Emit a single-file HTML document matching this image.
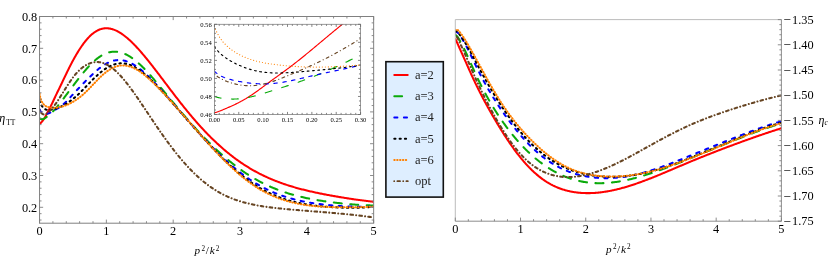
<!DOCTYPE html>
<html><head><meta charset="utf-8"><style>html,body{margin:0;padding:0;background:#fff}svg{display:block;will-change:transform}text{font-family:"Liberation Serif",serif;fill:#000}</style></head><body>
<svg width="830" height="260" viewBox="0 0 830 260">
<rect width="830" height="260" fill="#fff"/>
<clipPath id="cl"><rect x="39.55" y="16.50" width="334.10" height="206.70"/></clipPath>
<g clip-path="url(#cl)" fill="none" stroke-width="2.05" stroke-linecap="round" stroke-linejoin="round">
<path d="M39.55 124.01 L39.58 123.99 L39.63 123.96 L39.71 123.91 L39.79 123.85 L39.89 123.77 L39.99 123.68 L40.11 123.58 L40.23 123.46 L40.36 123.33 L40.50 123.19 L40.64 123.04 L40.80 122.87 L40.95 122.70 L41.12 122.51 L41.29 122.32 L41.47 122.13 L41.65 121.92 L41.84 121.71 L42.03 121.49 L42.23 121.25 L42.43 121.00 L42.64 120.74 L42.86 120.46 L43.07 120.17 L43.30 119.86 L43.52 119.53 L43.76 119.19 L43.99 118.82 L44.23 118.44 L44.48 118.03 L44.72 117.61 L44.98 117.17 L45.23 116.71 L45.49 116.23 L45.76 115.73 L46.02 115.22 L46.30 114.71 L46.57 114.18 L46.85 113.65 L47.13 113.11 L47.42 112.58 L47.71 112.04 L48.00 111.49 L48.30 110.94 L48.60 110.39 L48.90 109.82 L49.21 109.24 L49.52 108.66 L49.83 108.05 L50.15 107.44 L50.47 106.80 L50.79 106.15 L51.11 105.49 L51.44 104.82 L51.78 104.13 L52.11 103.43 L52.45 102.72 L52.79 101.99 L53.13 101.26 L53.48 100.51 L53.83 99.76 L54.18 99.00 L54.54 98.23 L54.90 97.46 L55.26 96.69 L55.62 95.91 L55.99 95.13 L56.36 94.35 L56.73 93.57 L57.10 92.80 L57.48 92.02 L57.86 91.24 L58.24 90.45 L58.63 89.67 L59.02 88.88 L59.41 88.08 L59.80 87.28 L60.20 86.46 L60.60 85.64 L61.00 84.82 L61.40 83.98 L61.81 83.13 L62.21 82.28 L62.63 81.41 L63.04 80.55 L63.45 79.67 L63.87 78.79 L64.29 77.91 L64.72 77.02 L65.14 76.13 L65.57 75.23 L66.00 74.33 L66.43 73.44 L66.87 72.54 L67.30 71.64 L67.74 70.73 L68.18 69.83 L68.63 68.94 L69.07 68.04 L69.52 67.15 L69.97 66.25 L70.43 65.36 L70.88 64.48 L71.34 63.60 L71.80 62.72 L72.26 61.85 L72.72 60.98 L73.19 60.12 L73.66 59.27 L74.13 58.42 L74.60 57.57 L75.08 56.73 L75.55 55.90 L76.03 55.07 L76.51 54.26 L77.00 53.44 L77.48 52.64 L77.97 51.84 L78.46 51.05 L78.95 50.27 L79.44 49.49 L79.94 48.73 L80.44 47.97 L80.94 47.23 L81.44 46.49 L81.94 45.76 L82.45 45.05 L82.96 44.34 L83.46 43.65 L83.98 42.97 L84.49 42.30 L85.01 41.64 L85.52 41.00 L86.04 40.36 L86.56 39.74 L87.09 39.14 L87.61 38.54 L88.14 37.97 L88.67 37.40 L89.20 36.85 L89.73 36.32 L90.27 35.80 L90.80 35.30 L91.34 34.81 L91.88 34.34 L92.43 33.88 L92.97 33.45 L93.52 33.02 L94.06 32.62 L94.61 32.23 L95.16 31.86 L95.72 31.51 L96.27 31.17 L96.83 30.86 L97.39 30.56 L97.95 30.28 L98.51 30.01 L99.08 29.77 L99.64 29.54 L100.21 29.33 L100.78 29.14 L101.35 28.97 L101.92 28.82 L102.50 28.68 L103.08 28.57 L103.65 28.47 L104.23 28.39 L104.82 28.33 L105.40 28.29 L105.99 28.27 L106.57 28.27 L107.16 28.28 L107.75 28.32 L108.34 28.37 L108.94 28.44 L109.53 28.53 L110.13 28.63 L110.73 28.75 L111.33 28.89 L111.93 29.05 L112.54 29.23 L113.14 29.42 L113.75 29.63 L114.36 29.86 L114.97 30.11 L115.58 30.37 L116.20 30.65 L116.81 30.94 L117.43 31.25 L118.05 31.58 L118.67 31.93 L119.29 32.28 L119.91 32.66 L120.54 33.05 L121.17 33.45 L121.80 33.87 L122.43 34.31 L123.06 34.76 L123.69 35.22 L124.33 35.70 L124.96 36.19 L125.60 36.70 L126.24 37.22 L126.88 37.75 L127.52 38.30 L128.17 38.86 L128.81 39.43 L129.46 40.01 L130.11 40.61 L130.76 41.22 L131.41 41.84 L132.07 42.48 L132.72 43.12 L133.38 43.78 L134.04 44.44 L134.70 45.12 L135.36 45.81 L136.02 46.51 L136.69 47.22 L137.35 47.94 L138.02 48.67 L138.69 49.41 L139.36 50.16 L140.03 50.92 L140.71 51.69 L141.38 52.47 L142.06 53.26 L142.74 54.05 L143.42 54.86 L144.10 55.67 L144.78 56.49 L145.47 57.32 L146.15 58.16 L146.84 59.00 L147.53 59.85 L148.22 60.71 L148.91 61.57 L149.60 62.44 L150.29 63.32 L150.99 64.20 L151.69 65.09 L152.39 65.98 L153.09 66.88 L153.79 67.78 L154.49 68.69 L155.20 69.60 L155.90 70.52 L156.61 71.45 L157.32 72.37 L158.03 73.30 L158.74 74.24 L159.45 75.18 L160.17 76.12 L160.88 77.06 L161.60 78.01 L162.32 78.96 L163.04 79.92 L163.76 80.87 L164.48 81.83 L165.21 82.79 L165.93 83.75 L166.66 84.71 L167.39 85.68 L168.12 86.64 L168.85 87.61 L169.58 88.57 L170.32 89.54 L171.05 90.51 L171.79 91.48 L172.53 92.44 L173.26 93.41 L174.01 94.38 L174.75 95.34 L175.49 96.31 L176.24 97.27 L176.98 98.24 L177.73 99.20 L178.48 100.16 L179.23 101.12 L179.98 102.08 L180.73 103.03 L181.49 103.99 L182.24 104.94 L183.00 105.89 L183.76 106.83 L184.52 107.78 L185.28 108.72 L186.04 109.66 L186.81 110.60 L187.57 111.53 L188.34 112.46 L189.10 113.39 L189.87 114.31 L190.64 115.23 L191.42 116.15 L192.19 117.06 L192.96 117.97 L193.74 118.88 L194.51 119.78 L195.29 120.68 L196.07 121.57 L196.85 122.46 L197.63 123.35 L198.42 124.23 L199.20 125.10 L199.99 125.98 L200.78 126.84 L201.56 127.71 L202.35 128.56 L203.14 129.42 L203.94 130.27 L204.73 131.11 L205.52 131.95 L206.32 132.78 L207.12 133.61 L207.92 134.43 L208.72 135.25 L209.52 136.06 L210.32 136.87 L211.12 137.67 L211.93 138.46 L212.73 139.25 L213.54 140.04 L214.35 140.81 L215.16 141.59 L215.97 142.35 L216.78 143.12 L217.60 143.87 L218.41 144.62 L219.23 145.37 L220.05 146.10 L220.86 146.84 L221.68 147.56 L222.51 148.28 L223.33 148.99 L224.15 149.70 L224.98 150.40 L225.80 151.10 L226.63 151.79 L227.46 152.47 L228.29 153.15 L229.12 153.82 L229.95 154.48 L230.78 155.14 L231.62 155.79 L232.45 156.43 L233.29 157.07 L234.13 157.70 L234.97 158.33 L235.81 158.95 L236.65 159.56 L237.49 160.17 L238.34 160.77 L239.18 161.36 L240.03 161.95 L240.88 162.53 L241.73 163.11 L242.58 163.68 L243.43 164.24 L244.28 164.80 L245.13 165.35 L245.99 165.89 L246.84 166.43 L247.70 166.97 L248.56 167.49 L249.42 168.01 L250.28 168.53 L251.14 169.04 L252.00 169.54 L252.87 170.04 L253.73 170.53 L254.60 171.01 L255.47 171.49 L256.34 171.96 L257.21 172.43 L258.08 172.89 L258.95 173.35 L259.82 173.79 L260.70 174.24 L261.57 174.68 L262.45 175.11 L263.33 175.53 L264.21 175.95 L265.09 176.37 L265.97 176.78 L266.85 177.18 L267.74 177.58 L268.62 177.98 L269.51 178.36 L270.40 178.75 L271.28 179.13 L272.17 179.50 L273.06 179.87 L273.96 180.23 L274.85 180.59 L275.74 180.95 L276.64 181.30 L277.54 181.64 L278.43 181.98 L279.33 182.32 L280.23 182.65 L281.13 182.97 L282.03 183.30 L282.94 183.61 L283.84 183.93 L284.75 184.24 L285.65 184.54 L286.56 184.85 L287.47 185.14 L288.38 185.44 L289.29 185.72 L290.20 186.01 L291.12 186.29 L292.03 186.57 L292.94 186.84 L293.86 187.11 L294.78 187.38 L295.70 187.64 L296.62 187.90 L297.54 188.16 L298.46 188.41 L299.38 188.66 L300.31 188.90 L301.23 189.15 L302.16 189.39 L303.09 189.62 L304.01 189.86 L304.94 190.09 L305.87 190.31 L306.81 190.54 L307.74 190.76 L308.67 190.98 L309.61 191.20 L310.54 191.41 L311.48 191.62 L312.42 191.83 L313.36 192.04 L314.30 192.25 L315.24 192.45 L316.18 192.65 L317.13 192.85 L318.07 193.05 L319.02 193.24 L319.96 193.43 L320.91 193.62 L321.86 193.81 L322.81 194.00 L323.76 194.19 L324.71 194.37 L325.67 194.55 L326.62 194.73 L327.58 194.91 L328.53 195.09 L329.49 195.27 L330.45 195.44 L331.41 195.62 L332.37 195.79 L333.33 195.96 L334.29 196.13 L335.26 196.30 L336.22 196.47 L337.19 196.63 L338.16 196.80 L339.12 196.96 L340.09 197.13 L341.06 197.29 L342.03 197.45 L343.01 197.61 L343.98 197.77 L344.95 197.92 L345.93 198.08 L346.90 198.23 L347.88 198.38 L348.86 198.53 L349.84 198.68 L350.82 198.83 L351.80 198.98 L352.78 199.12 L353.77 199.26 L354.75 199.40 L355.74 199.54 L356.72 199.68 L357.71 199.82 L358.70 199.95 L359.69 200.09 L360.68 200.22 L361.67 200.35 L362.66 200.48 L363.66 200.60 L364.65 200.73 L365.65 200.85 L366.64 200.97 L367.64 201.09 L368.64 201.21 L369.64 201.32 L370.64 201.44 L371.64 201.55 L372.65 201.66 L373.65 201.77" stroke="#ff0000"/>
<path d="M39.55 118.25 L39.58 118.27 L39.63 118.32 L39.71 118.38 L39.79 118.45 L39.89 118.52 L39.99 118.59 L40.11 118.66 L40.23 118.73 L40.36 118.80 L40.50 118.86 L40.64 118.92 L40.80 118.97 L40.95 119.01 L41.12 119.06 L41.29 119.09 L41.47 119.13 L41.65 119.15 L41.84 119.17 L42.03 119.18 L42.23 119.18 L42.43 119.16 L42.64 119.14 L42.86 119.10 L43.07 119.05 L43.30 118.99 L43.52 118.91 L43.76 118.82 L43.99 118.72 L44.23 118.60 L44.48 118.46 L44.72 118.32 L44.98 118.15 L45.23 117.98 L45.49 117.79 L45.76 117.60 L46.02 117.39 L46.30 117.18 L46.57 116.96 L46.85 116.73 L47.13 116.50 L47.42 116.27 L47.71 116.03 L48.00 115.79 L48.30 115.55 L48.60 115.30 L48.90 115.05 L49.21 114.80 L49.52 114.54 L49.83 114.28 L50.15 114.01 L50.47 113.73 L50.79 113.45 L51.11 113.16 L51.44 112.87 L51.78 112.56 L52.11 112.25 L52.45 111.92 L52.79 111.59 L53.13 111.24 L53.48 110.89 L53.83 110.52 L54.18 110.14 L54.54 109.75 L54.90 109.35 L55.26 108.95 L55.62 108.53 L55.99 108.10 L56.36 107.67 L56.73 107.22 L57.10 106.77 L57.48 106.31 L57.86 105.84 L58.24 105.36 L58.63 104.88 L59.02 104.39 L59.41 103.89 L59.80 103.39 L60.20 102.88 L60.60 102.37 L61.00 101.85 L61.40 101.32 L61.81 100.79 L62.21 100.26 L62.63 99.72 L63.04 99.18 L63.45 98.63 L63.87 98.08 L64.29 97.53 L64.72 96.97 L65.14 96.40 L65.57 95.84 L66.00 95.26 L66.43 94.69 L66.87 94.11 L67.30 93.53 L67.74 92.94 L68.18 92.35 L68.63 91.76 L69.07 91.17 L69.52 90.57 L69.97 89.97 L70.43 89.36 L70.88 88.75 L71.34 88.14 L71.80 87.53 L72.26 86.91 L72.72 86.30 L73.19 85.68 L73.66 85.06 L74.13 84.43 L74.60 83.81 L75.08 83.18 L75.55 82.55 L76.03 81.92 L76.51 81.29 L77.00 80.66 L77.48 80.03 L77.97 79.40 L78.46 78.77 L78.95 78.14 L79.44 77.51 L79.94 76.88 L80.44 76.25 L80.94 75.62 L81.44 74.99 L81.94 74.37 L82.45 73.75 L82.96 73.13 L83.46 72.51 L83.98 71.90 L84.49 71.29 L85.01 70.68 L85.52 70.07 L86.04 69.47 L86.56 68.88 L87.09 68.29 L87.61 67.70 L88.14 67.12 L88.67 66.55 L89.20 65.98 L89.73 65.42 L90.27 64.87 L90.80 64.32 L91.34 63.78 L91.88 63.25 L92.43 62.72 L92.97 62.21 L93.52 61.70 L94.06 61.20 L94.61 60.72 L95.16 60.24 L95.72 59.77 L96.27 59.31 L96.83 58.86 L97.39 58.43 L97.95 58.00 L98.51 57.59 L99.08 57.19 L99.64 56.80 L100.21 56.42 L100.78 56.06 L101.35 55.70 L101.92 55.37 L102.50 55.04 L103.08 54.73 L103.65 54.43 L104.23 54.15 L104.82 53.88 L105.40 53.63 L105.99 53.39 L106.57 53.16 L107.16 52.95 L107.75 52.76 L108.34 52.58 L108.94 52.41 L109.53 52.26 L110.13 52.13 L110.73 52.02 L111.33 51.92 L111.93 51.83 L112.54 51.76 L113.14 51.71 L113.75 51.68 L114.36 51.66 L114.97 51.66 L115.58 51.68 L116.20 51.71 L116.81 51.76 L117.43 51.83 L118.05 51.91 L118.67 52.01 L119.29 52.13 L119.91 52.26 L120.54 52.41 L121.17 52.58 L121.80 52.77 L122.43 52.97 L123.06 53.19 L123.69 53.42 L124.33 53.68 L124.96 53.95 L125.60 54.23 L126.24 54.54 L126.88 54.86 L127.52 55.20 L128.17 55.55 L128.81 55.92 L129.46 56.31 L130.11 56.71 L130.76 57.13 L131.41 57.57 L132.07 58.02 L132.72 58.48 L133.38 58.96 L134.04 59.46 L134.70 59.97 L135.36 60.49 L136.02 61.03 L136.69 61.58 L137.35 62.15 L138.02 62.73 L138.69 63.32 L139.36 63.93 L140.03 64.55 L140.71 65.18 L141.38 65.83 L142.06 66.49 L142.74 67.16 L143.42 67.84 L144.10 68.53 L144.78 69.24 L145.47 69.95 L146.15 70.68 L146.84 71.42 L147.53 72.16 L148.22 72.92 L148.91 73.68 L149.60 74.45 L150.29 75.23 L150.99 76.02 L151.69 76.81 L152.39 77.61 L153.09 78.42 L153.79 79.24 L154.49 80.06 L155.20 80.89 L155.90 81.72 L156.61 82.56 L157.32 83.40 L158.03 84.24 L158.74 85.10 L159.45 85.95 L160.17 86.81 L160.88 87.67 L161.60 88.54 L162.32 89.41 L163.04 90.28 L163.76 91.15 L164.48 92.03 L165.21 92.91 L165.93 93.79 L166.66 94.67 L167.39 95.56 L168.12 96.45 L168.85 97.33 L169.58 98.22 L170.32 99.11 L171.05 100.00 L171.79 100.90 L172.53 101.79 L173.26 102.68 L174.01 103.57 L174.75 104.46 L175.49 105.36 L176.24 106.25 L176.98 107.14 L177.73 108.03 L178.48 108.92 L179.23 109.81 L179.98 110.70 L180.73 111.59 L181.49 112.47 L182.24 113.36 L183.00 114.24 L183.76 115.12 L184.52 116.00 L185.28 116.88 L186.04 117.76 L186.81 118.63 L187.57 119.51 L188.34 120.38 L189.10 121.25 L189.87 122.12 L190.64 122.98 L191.42 123.85 L192.19 124.71 L192.96 125.57 L193.74 126.43 L194.51 127.28 L195.29 128.13 L196.07 128.98 L196.85 129.83 L197.63 130.67 L198.42 131.52 L199.20 132.35 L199.99 133.19 L200.78 134.02 L201.56 134.85 L202.35 135.68 L203.14 136.51 L203.94 137.33 L204.73 138.15 L205.52 138.96 L206.32 139.77 L207.12 140.58 L207.92 141.39 L208.72 142.19 L209.52 142.98 L210.32 143.78 L211.12 144.57 L211.93 145.35 L212.73 146.13 L213.54 146.91 L214.35 147.68 L215.16 148.45 L215.97 149.22 L216.78 149.98 L217.60 150.73 L218.41 151.48 L219.23 152.23 L220.05 152.97 L220.86 153.71 L221.68 154.44 L222.51 155.17 L223.33 155.89 L224.15 156.60 L224.98 157.32 L225.80 158.02 L226.63 158.72 L227.46 159.42 L228.29 160.11 L229.12 160.80 L229.95 161.48 L230.78 162.15 L231.62 162.82 L232.45 163.48 L233.29 164.14 L234.13 164.79 L234.97 165.44 L235.81 166.08 L236.65 166.71 L237.49 167.34 L238.34 167.97 L239.18 168.58 L240.03 169.20 L240.88 169.80 L241.73 170.40 L242.58 171.00 L243.43 171.58 L244.28 172.16 L245.13 172.74 L245.99 173.31 L246.84 173.87 L247.70 174.43 L248.56 174.98 L249.42 175.53 L250.28 176.06 L251.14 176.60 L252.00 177.12 L252.87 177.64 L253.73 178.15 L254.60 178.66 L255.47 179.16 L256.34 179.65 L257.21 180.14 L258.08 180.62 L258.95 181.10 L259.82 181.56 L260.70 182.03 L261.57 182.48 L262.45 182.93 L263.33 183.37 L264.21 183.81 L265.09 184.24 L265.97 184.66 L266.85 185.08 L267.74 185.49 L268.62 185.90 L269.51 186.30 L270.40 186.69 L271.28 187.08 L272.17 187.46 L273.06 187.84 L273.96 188.21 L274.85 188.57 L275.74 188.93 L276.64 189.29 L277.54 189.64 L278.43 189.98 L279.33 190.32 L280.23 190.65 L281.13 190.98 L282.03 191.30 L282.94 191.61 L283.84 191.92 L284.75 192.23 L285.65 192.53 L286.56 192.83 L287.47 193.12 L288.38 193.40 L289.29 193.68 L290.20 193.96 L291.12 194.23 L292.03 194.49 L292.94 194.75 L293.86 195.01 L294.78 195.26 L295.70 195.51 L296.62 195.75 L297.54 195.99 L298.46 196.22 L299.38 196.45 L300.31 196.67 L301.23 196.89 L302.16 197.11 L303.09 197.32 L304.01 197.53 L304.94 197.74 L305.87 197.94 L306.81 198.13 L307.74 198.33 L308.67 198.52 L309.61 198.70 L310.54 198.89 L311.48 199.07 L312.42 199.24 L313.36 199.42 L314.30 199.59 L315.24 199.76 L316.18 199.92 L317.13 200.08 L318.07 200.24 L319.02 200.40 L319.96 200.55 L320.91 200.70 L321.86 200.85 L322.81 200.99 L323.76 201.14 L324.71 201.28 L325.67 201.41 L326.62 201.55 L327.58 201.68 L328.53 201.82 L329.49 201.95 L330.45 202.07 L331.41 202.20 L332.37 202.32 L333.33 202.44 L334.29 202.56 L335.26 202.68 L336.22 202.80 L337.19 202.91 L338.16 203.03 L339.12 203.14 L340.09 203.24 L341.06 203.35 L342.03 203.46 L343.01 203.56 L343.98 203.66 L344.95 203.76 L345.93 203.85 L346.90 203.94 L347.88 204.04 L348.86 204.12 L349.84 204.21 L350.82 204.29 L351.80 204.38 L352.78 204.45 L353.77 204.53 L354.75 204.60 L355.74 204.68 L356.72 204.74 L357.71 204.81 L358.70 204.87 L359.69 204.93 L360.68 204.99 L361.67 205.05 L362.66 205.10 L363.66 205.15 L364.65 205.19 L365.65 205.24 L366.64 205.28 L367.64 205.32 L368.64 205.35 L369.64 205.38 L370.64 205.41 L371.64 205.44 L372.65 205.46 L373.65 205.48" stroke="#0aaa0a" stroke-dasharray="8.0 8.5"/>
<path d="M39.55 109.28 L39.58 109.37 L39.63 109.51 L39.71 109.69 L39.79 109.89 L39.89 110.11 L39.99 110.32 L40.11 110.53 L40.23 110.74 L40.36 110.93 L40.50 111.12 L40.64 111.30 L40.80 111.47 L40.95 111.62 L41.12 111.78 L41.29 111.92 L41.47 112.07 L41.65 112.20 L41.84 112.34 L42.03 112.46 L42.23 112.58 L42.43 112.70 L42.64 112.82 L42.86 112.93 L43.07 113.03 L43.30 113.14 L43.52 113.23 L43.76 113.33 L43.99 113.41 L44.23 113.49 L44.48 113.57 L44.72 113.63 L44.98 113.69 L45.23 113.74 L45.49 113.78 L45.76 113.80 L46.02 113.82 L46.30 113.83 L46.57 113.82 L46.85 113.80 L47.13 113.76 L47.42 113.71 L47.71 113.65 L48.00 113.57 L48.30 113.48 L48.60 113.37 L48.90 113.25 L49.21 113.12 L49.52 112.97 L49.83 112.82 L50.15 112.65 L50.47 112.47 L50.79 112.29 L51.11 112.09 L51.44 111.90 L51.78 111.69 L52.11 111.49 L52.45 111.29 L52.79 111.08 L53.13 110.88 L53.48 110.68 L53.83 110.48 L54.18 110.28 L54.54 110.09 L54.90 109.89 L55.26 109.69 L55.62 109.49 L55.99 109.29 L56.36 109.09 L56.73 108.89 L57.10 108.68 L57.48 108.47 L57.86 108.25 L58.24 108.03 L58.63 107.80 L59.02 107.56 L59.41 107.31 L59.80 107.05 L60.20 106.78 L60.60 106.50 L61.00 106.21 L61.40 105.91 L61.81 105.59 L62.21 105.26 L62.63 104.92 L63.04 104.57 L63.45 104.20 L63.87 103.83 L64.29 103.45 L64.72 103.05 L65.14 102.65 L65.57 102.23 L66.00 101.81 L66.43 101.37 L66.87 100.93 L67.30 100.48 L67.74 100.02 L68.18 99.56 L68.63 99.09 L69.07 98.61 L69.52 98.13 L69.97 97.64 L70.43 97.15 L70.88 96.66 L71.34 96.16 L71.80 95.66 L72.26 95.15 L72.72 94.65 L73.19 94.14 L73.66 93.63 L74.13 93.11 L74.60 92.60 L75.08 92.08 L75.55 91.57 L76.03 91.05 L76.51 90.53 L77.00 90.01 L77.48 89.49 L77.97 88.98 L78.46 88.46 L78.95 87.94 L79.44 87.42 L79.94 86.90 L80.44 86.38 L80.94 85.86 L81.44 85.34 L81.94 84.82 L82.45 84.30 L82.96 83.78 L83.46 83.25 L83.98 82.73 L84.49 82.21 L85.01 81.69 L85.52 81.16 L86.04 80.64 L86.56 80.11 L87.09 79.59 L87.61 79.06 L88.14 78.54 L88.67 78.02 L89.20 77.50 L89.73 76.98 L90.27 76.46 L90.80 75.94 L91.34 75.43 L91.88 74.91 L92.43 74.40 L92.97 73.89 L93.52 73.39 L94.06 72.88 L94.61 72.38 L95.16 71.89 L95.72 71.40 L96.27 70.91 L96.83 70.43 L97.39 69.95 L97.95 69.48 L98.51 69.02 L99.08 68.57 L99.64 68.12 L100.21 67.68 L100.78 67.25 L101.35 66.82 L101.92 66.41 L102.50 66.01 L103.08 65.61 L103.65 65.23 L104.23 64.86 L104.82 64.49 L105.40 64.14 L105.99 63.80 L106.57 63.48 L107.16 63.16 L107.75 62.86 L108.34 62.58 L108.94 62.30 L109.53 62.04 L110.13 61.80 L110.73 61.57 L111.33 61.35 L111.93 61.16 L112.54 60.97 L113.14 60.80 L113.75 60.65 L114.36 60.52 L114.97 60.40 L115.58 60.30 L116.20 60.21 L116.81 60.15 L117.43 60.10 L118.05 60.06 L118.67 60.05 L119.29 60.05 L119.91 60.07 L120.54 60.10 L121.17 60.15 L121.80 60.22 L122.43 60.31 L123.06 60.42 L123.69 60.54 L124.33 60.68 L124.96 60.84 L125.60 61.02 L126.24 61.21 L126.88 61.42 L127.52 61.65 L128.17 61.90 L128.81 62.16 L129.46 62.44 L130.11 62.74 L130.76 63.06 L131.41 63.39 L132.07 63.73 L132.72 64.10 L133.38 64.47 L134.04 64.87 L134.70 65.28 L135.36 65.70 L136.02 66.14 L136.69 66.59 L137.35 67.06 L138.02 67.54 L138.69 68.03 L139.36 68.54 L140.03 69.06 L140.71 69.60 L141.38 70.14 L142.06 70.71 L142.74 71.28 L143.42 71.86 L144.10 72.46 L144.78 73.07 L145.47 73.69 L146.15 74.32 L146.84 74.96 L147.53 75.62 L148.22 76.28 L148.91 76.95 L149.60 77.63 L150.29 78.32 L150.99 79.02 L151.69 79.72 L152.39 80.44 L153.09 81.16 L153.79 81.89 L154.49 82.63 L155.20 83.37 L155.90 84.12 L156.61 84.88 L157.32 85.64 L158.03 86.41 L158.74 87.19 L159.45 87.97 L160.17 88.75 L160.88 89.55 L161.60 90.34 L162.32 91.14 L163.04 91.95 L163.76 92.76 L164.48 93.57 L165.21 94.39 L165.93 95.21 L166.66 96.04 L167.39 96.86 L168.12 97.70 L168.85 98.53 L169.58 99.37 L170.32 100.21 L171.05 101.06 L171.79 101.91 L172.53 102.76 L173.26 103.61 L174.01 104.46 L174.75 105.32 L175.49 106.18 L176.24 107.04 L176.98 107.90 L177.73 108.77 L178.48 109.63 L179.23 110.50 L179.98 111.37 L180.73 112.24 L181.49 113.11 L182.24 113.98 L183.00 114.85 L183.76 115.73 L184.52 116.60 L185.28 117.48 L186.04 118.35 L186.81 119.23 L187.57 120.10 L188.34 120.98 L189.10 121.85 L189.87 122.73 L190.64 123.60 L191.42 124.48 L192.19 125.35 L192.96 126.23 L193.74 127.10 L194.51 127.97 L195.29 128.84 L196.07 129.72 L196.85 130.59 L197.63 131.46 L198.42 132.32 L199.20 133.19 L199.99 134.06 L200.78 134.92 L201.56 135.78 L202.35 136.65 L203.14 137.51 L203.94 138.36 L204.73 139.22 L205.52 140.08 L206.32 140.93 L207.12 141.78 L207.92 142.63 L208.72 143.47 L209.52 144.31 L210.32 145.15 L211.12 145.99 L211.93 146.82 L212.73 147.65 L213.54 148.48 L214.35 149.30 L215.16 150.12 L215.97 150.93 L216.78 151.74 L217.60 152.55 L218.41 153.35 L219.23 154.15 L220.05 154.95 L220.86 155.74 L221.68 156.52 L222.51 157.30 L223.33 158.08 L224.15 158.85 L224.98 159.61 L225.80 160.38 L226.63 161.13 L227.46 161.88 L228.29 162.63 L229.12 163.37 L229.95 164.10 L230.78 164.83 L231.62 165.55 L232.45 166.27 L233.29 166.98 L234.13 167.68 L234.97 168.38 L235.81 169.07 L236.65 169.76 L237.49 170.44 L238.34 171.11 L239.18 171.78 L240.03 172.44 L240.88 173.09 L241.73 173.74 L242.58 174.38 L243.43 175.02 L244.28 175.64 L245.13 176.26 L245.99 176.88 L246.84 177.48 L247.70 178.08 L248.56 178.67 L249.42 179.26 L250.28 179.84 L251.14 180.41 L252.00 180.97 L252.87 181.52 L253.73 182.07 L254.60 182.61 L255.47 183.15 L256.34 183.67 L257.21 184.19 L258.08 184.70 L258.95 185.20 L259.82 185.69 L260.70 186.18 L261.57 186.66 L262.45 187.13 L263.33 187.59 L264.21 188.05 L265.09 188.50 L265.97 188.94 L266.85 189.37 L267.74 189.80 L268.62 190.22 L269.51 190.63 L270.40 191.04 L271.28 191.44 L272.17 191.83 L273.06 192.22 L273.96 192.59 L274.85 192.97 L275.74 193.33 L276.64 193.69 L277.54 194.04 L278.43 194.38 L279.33 194.72 L280.23 195.06 L281.13 195.38 L282.03 195.70 L282.94 196.01 L283.84 196.32 L284.75 196.62 L285.65 196.92 L286.56 197.20 L287.47 197.49 L288.38 197.76 L289.29 198.03 L290.20 198.30 L291.12 198.56 L292.03 198.81 L292.94 199.06 L293.86 199.30 L294.78 199.53 L295.70 199.76 L296.62 199.99 L297.54 200.21 L298.46 200.42 L299.38 200.63 L300.31 200.83 L301.23 201.03 L302.16 201.23 L303.09 201.42 L304.01 201.60 L304.94 201.78 L305.87 201.96 L306.81 202.13 L307.74 202.30 L308.67 202.46 L309.61 202.62 L310.54 202.77 L311.48 202.92 L312.42 203.07 L313.36 203.21 L314.30 203.35 L315.24 203.49 L316.18 203.62 L317.13 203.75 L318.07 203.88 L319.02 204.00 L319.96 204.12 L320.91 204.24 L321.86 204.35 L322.81 204.46 L323.76 204.57 L324.71 204.67 L325.67 204.78 L326.62 204.88 L327.58 204.97 L328.53 205.07 L329.49 205.16 L330.45 205.25 L331.41 205.34 L332.37 205.42 L333.33 205.51 L334.29 205.59 L335.26 205.67 L336.22 205.74 L337.19 205.82 L338.16 205.89 L339.12 205.96 L340.09 206.03 L341.06 206.09 L342.03 206.16 L343.01 206.22 L343.98 206.28 L344.95 206.33 L345.93 206.39 L346.90 206.44 L347.88 206.48 L348.86 206.53 L349.84 206.57 L350.82 206.61 L351.80 206.64 L352.78 206.68 L353.77 206.71 L354.75 206.74 L355.74 206.76 L356.72 206.78 L357.71 206.80 L358.70 206.81 L359.69 206.82 L360.68 206.83 L361.67 206.84 L362.66 206.84 L363.66 206.84 L364.65 206.83 L365.65 206.82 L366.64 206.81 L367.64 206.79 L368.64 206.77 L369.64 206.75 L370.64 206.72 L371.64 206.69 L372.65 206.66 L373.65 206.62" stroke="#0000ff" stroke-dasharray="3.3 6.3"/>
<path d="M39.55 100.67 L39.58 100.78 L39.63 100.98 L39.71 101.23 L39.79 101.52 L39.89 101.82 L39.99 102.14 L40.11 102.47 L40.23 102.79 L40.36 103.12 L40.50 103.44 L40.64 103.76 L40.80 104.07 L40.95 104.37 L41.12 104.68 L41.29 104.97 L41.47 105.27 L41.65 105.55 L41.84 105.84 L42.03 106.11 L42.23 106.38 L42.43 106.65 L42.64 106.91 L42.86 107.16 L43.07 107.41 L43.30 107.65 L43.52 107.88 L43.76 108.11 L43.99 108.33 L44.23 108.53 L44.48 108.72 L44.72 108.91 L44.98 109.07 L45.23 109.23 L45.49 109.37 L45.76 109.49 L46.02 109.60 L46.30 109.70 L46.57 109.78 L46.85 109.85 L47.13 109.90 L47.42 109.94 L47.71 109.97 L48.00 109.98 L48.30 109.99 L48.60 109.98 L48.90 109.96 L49.21 109.93 L49.52 109.89 L49.83 109.85 L50.15 109.80 L50.47 109.74 L50.79 109.68 L51.11 109.61 L51.44 109.54 L51.78 109.47 L52.11 109.39 L52.45 109.32 L52.79 109.24 L53.13 109.16 L53.48 109.07 L53.83 108.99 L54.18 108.91 L54.54 108.82 L54.90 108.73 L55.26 108.64 L55.62 108.54 L55.99 108.44 L56.36 108.34 L56.73 108.23 L57.10 108.12 L57.48 108.00 L57.86 107.87 L58.24 107.74 L58.63 107.60 L59.02 107.45 L59.41 107.30 L59.80 107.14 L60.20 106.97 L60.60 106.79 L61.00 106.61 L61.40 106.41 L61.81 106.21 L62.21 106.01 L62.63 105.79 L63.04 105.57 L63.45 105.34 L63.87 105.10 L64.29 104.86 L64.72 104.62 L65.14 104.36 L65.57 104.10 L66.00 103.84 L66.43 103.57 L66.87 103.30 L67.30 103.02 L67.74 102.73 L68.18 102.44 L68.63 102.14 L69.07 101.84 L69.52 101.52 L69.97 101.21 L70.43 100.88 L70.88 100.55 L71.34 100.21 L71.80 99.86 L72.26 99.51 L72.72 99.15 L73.19 98.78 L73.66 98.40 L74.13 98.02 L74.60 97.62 L75.08 97.22 L75.55 96.82 L76.03 96.40 L76.51 95.97 L77.00 95.54 L77.48 95.10 L77.97 94.65 L78.46 94.19 L78.95 93.72 L79.44 93.25 L79.94 92.77 L80.44 92.28 L80.94 91.79 L81.44 91.29 L81.94 90.78 L82.45 90.27 L82.96 89.75 L83.46 89.23 L83.98 88.70 L84.49 88.17 L85.01 87.63 L85.52 87.09 L86.04 86.55 L86.56 86.00 L87.09 85.45 L87.61 84.90 L88.14 84.35 L88.67 83.80 L89.20 83.24 L89.73 82.69 L90.27 82.14 L90.80 81.58 L91.34 81.03 L91.88 80.48 L92.43 79.94 L92.97 79.39 L93.52 78.85 L94.06 78.31 L94.61 77.78 L95.16 77.25 L95.72 76.72 L96.27 76.20 L96.83 75.68 L97.39 75.17 L97.95 74.67 L98.51 74.17 L99.08 73.68 L99.64 73.20 L100.21 72.72 L100.78 72.25 L101.35 71.79 L101.92 71.34 L102.50 70.90 L103.08 70.46 L103.65 70.04 L104.23 69.62 L104.82 69.22 L105.40 68.82 L105.99 68.44 L106.57 68.06 L107.16 67.70 L107.75 67.35 L108.34 67.02 L108.94 66.69 L109.53 66.38 L110.13 66.09 L110.73 65.80 L111.33 65.53 L111.93 65.28 L112.54 65.04 L113.14 64.81 L113.75 64.60 L114.36 64.41 L114.97 64.23 L115.58 64.07 L116.20 63.92 L116.81 63.79 L117.43 63.67 L118.05 63.57 L118.67 63.49 L119.29 63.43 L119.91 63.38 L120.54 63.35 L121.17 63.34 L121.80 63.34 L122.43 63.36 L123.06 63.40 L123.69 63.46 L124.33 63.54 L124.96 63.63 L125.60 63.74 L126.24 63.87 L126.88 64.02 L127.52 64.19 L128.17 64.37 L128.81 64.57 L129.46 64.79 L130.11 65.03 L130.76 65.29 L131.41 65.56 L132.07 65.85 L132.72 66.16 L133.38 66.48 L134.04 66.82 L134.70 67.17 L135.36 67.54 L136.02 67.93 L136.69 68.33 L137.35 68.75 L138.02 69.18 L138.69 69.63 L139.36 70.09 L140.03 70.56 L140.71 71.05 L141.38 71.56 L142.06 72.07 L142.74 72.61 L143.42 73.15 L144.10 73.71 L144.78 74.28 L145.47 74.86 L146.15 75.46 L146.84 76.06 L147.53 76.68 L148.22 77.31 L148.91 77.94 L149.60 78.59 L150.29 79.25 L150.99 79.92 L151.69 80.59 L152.39 81.28 L153.09 81.97 L153.79 82.67 L154.49 83.38 L155.20 84.10 L155.90 84.82 L156.61 85.55 L157.32 86.29 L158.03 87.03 L158.74 87.78 L159.45 88.54 L160.17 89.30 L160.88 90.07 L161.60 90.84 L162.32 91.62 L163.04 92.40 L163.76 93.19 L164.48 93.98 L165.21 94.77 L165.93 95.58 L166.66 96.38 L167.39 97.19 L168.12 98.00 L168.85 98.82 L169.58 99.64 L170.32 100.47 L171.05 101.29 L171.79 102.13 L172.53 102.96 L173.26 103.80 L174.01 104.64 L174.75 105.48 L175.49 106.33 L176.24 107.18 L176.98 108.03 L177.73 108.88 L178.48 109.74 L179.23 110.59 L179.98 111.45 L180.73 112.32 L181.49 113.18 L182.24 114.04 L183.00 114.91 L183.76 115.78 L184.52 116.65 L185.28 117.52 L186.04 118.39 L186.81 119.27 L187.57 120.14 L188.34 121.02 L189.10 121.89 L189.87 122.77 L190.64 123.65 L191.42 124.52 L192.19 125.40 L192.96 126.28 L193.74 127.16 L194.51 128.04 L195.29 128.92 L196.07 129.80 L196.85 130.68 L197.63 131.56 L198.42 132.44 L199.20 133.32 L199.99 134.20 L200.78 135.08 L201.56 135.96 L202.35 136.83 L203.14 137.71 L203.94 138.59 L204.73 139.46 L205.52 140.34 L206.32 141.21 L207.12 142.08 L207.92 142.95 L208.72 143.82 L209.52 144.69 L210.32 145.55 L211.12 146.41 L211.93 147.27 L212.73 148.13 L213.54 148.98 L214.35 149.83 L215.16 150.68 L215.97 151.52 L216.78 152.36 L217.60 153.20 L218.41 154.04 L219.23 154.87 L220.05 155.69 L220.86 156.51 L221.68 157.33 L222.51 158.15 L223.33 158.96 L224.15 159.76 L224.98 160.56 L225.80 161.36 L226.63 162.15 L227.46 162.93 L228.29 163.71 L229.12 164.49 L229.95 165.26 L230.78 166.03 L231.62 166.78 L232.45 167.54 L233.29 168.29 L234.13 169.03 L234.97 169.76 L235.81 170.49 L236.65 171.22 L237.49 171.93 L238.34 172.64 L239.18 173.35 L240.03 174.05 L240.88 174.74 L241.73 175.42 L242.58 176.10 L243.43 176.77 L244.28 177.43 L245.13 178.08 L245.99 178.73 L246.84 179.37 L247.70 180.00 L248.56 180.62 L249.42 181.24 L250.28 181.85 L251.14 182.45 L252.00 183.04 L252.87 183.63 L253.73 184.20 L254.60 184.77 L255.47 185.33 L256.34 185.88 L257.21 186.42 L258.08 186.96 L258.95 187.48 L259.82 188.00 L260.70 188.51 L261.57 189.01 L262.45 189.50 L263.33 189.98 L264.21 190.46 L265.09 190.92 L265.97 191.38 L266.85 191.83 L267.74 192.27 L268.62 192.71 L269.51 193.13 L270.40 193.55 L271.28 193.96 L272.17 194.36 L273.06 194.76 L273.96 195.14 L274.85 195.52 L275.74 195.90 L276.64 196.26 L277.54 196.62 L278.43 196.97 L279.33 197.31 L280.23 197.64 L281.13 197.97 L282.03 198.29 L282.94 198.61 L283.84 198.91 L284.75 199.21 L285.65 199.51 L286.56 199.79 L287.47 200.07 L288.38 200.34 L289.29 200.61 L290.20 200.87 L291.12 201.12 L292.03 201.37 L292.94 201.61 L293.86 201.84 L294.78 202.07 L295.70 202.29 L296.62 202.50 L297.54 202.71 L298.46 202.91 L299.38 203.11 L300.31 203.30 L301.23 203.49 L302.16 203.67 L303.09 203.84 L304.01 204.01 L304.94 204.18 L305.87 204.34 L306.81 204.49 L307.74 204.64 L308.67 204.78 L309.61 204.92 L310.54 205.06 L311.48 205.19 L312.42 205.32 L313.36 205.44 L314.30 205.56 L315.24 205.68 L316.18 205.79 L317.13 205.89 L318.07 206.00 L319.02 206.10 L319.96 206.19 L320.91 206.28 L321.86 206.37 L322.81 206.46 L323.76 206.54 L324.71 206.62 L325.67 206.70 L326.62 206.77 L327.58 206.84 L328.53 206.91 L329.49 206.97 L330.45 207.03 L331.41 207.09 L332.37 207.15 L333.33 207.20 L334.29 207.25 L335.26 207.30 L336.22 207.35 L337.19 207.40 L338.16 207.44 L339.12 207.48 L340.09 207.51 L341.06 207.55 L342.03 207.58 L343.01 207.61 L343.98 207.63 L344.95 207.65 L345.93 207.67 L346.90 207.69 L347.88 207.70 L348.86 207.71 L349.84 207.72 L350.82 207.72 L351.80 207.72 L352.78 207.72 L353.77 207.71 L354.75 207.70 L355.74 207.69 L356.72 207.67 L357.71 207.65 L358.70 207.62 L359.69 207.59 L360.68 207.56 L361.67 207.52 L362.66 207.48 L363.66 207.44 L364.65 207.39 L365.65 207.33 L366.64 207.28 L367.64 207.22 L368.64 207.15 L369.64 207.08 L370.64 207.01 L371.64 206.93 L372.65 206.85 L373.65 206.76" stroke="#000000" stroke-dasharray="1.4 3.9"/>
<path d="M39.55 93.53 L39.58 93.74 L39.63 94.11 L39.71 94.56 L39.79 95.06 L39.89 95.60 L39.99 96.15 L40.11 96.70 L40.23 97.24 L40.36 97.76 L40.50 98.27 L40.64 98.75 L40.80 99.21 L40.95 99.66 L41.12 100.09 L41.29 100.51 L41.47 100.91 L41.65 101.30 L41.84 101.68 L42.03 102.04 L42.23 102.39 L42.43 102.73 L42.64 103.05 L42.86 103.36 L43.07 103.66 L43.30 103.94 L43.52 104.22 L43.76 104.48 L43.99 104.73 L44.23 104.96 L44.48 105.18 L44.72 105.39 L44.98 105.58 L45.23 105.77 L45.49 105.94 L45.76 106.09 L46.02 106.24 L46.30 106.38 L46.57 106.51 L46.85 106.63 L47.13 106.74 L47.42 106.85 L47.71 106.95 L48.00 107.05 L48.30 107.14 L48.60 107.22 L48.90 107.30 L49.21 107.38 L49.52 107.45 L49.83 107.52 L50.15 107.58 L50.47 107.64 L50.79 107.70 L51.11 107.74 L51.44 107.79 L51.78 107.83 L52.11 107.86 L52.45 107.88 L52.79 107.90 L53.13 107.91 L53.48 107.91 L53.83 107.91 L54.18 107.90 L54.54 107.88 L54.90 107.86 L55.26 107.83 L55.62 107.80 L55.99 107.76 L56.36 107.71 L56.73 107.66 L57.10 107.61 L57.48 107.55 L57.86 107.49 L58.24 107.42 L58.63 107.35 L59.02 107.27 L59.41 107.19 L59.80 107.11 L60.20 107.02 L60.60 106.93 L61.00 106.83 L61.40 106.73 L61.81 106.63 L62.21 106.52 L62.63 106.40 L63.04 106.28 L63.45 106.15 L63.87 106.02 L64.29 105.88 L64.72 105.74 L65.14 105.59 L65.57 105.43 L66.00 105.27 L66.43 105.09 L66.87 104.91 L67.30 104.73 L67.74 104.54 L68.18 104.34 L68.63 104.13 L69.07 103.92 L69.52 103.70 L69.97 103.47 L70.43 103.24 L70.88 103.00 L71.34 102.76 L71.80 102.51 L72.26 102.25 L72.72 101.98 L73.19 101.71 L73.66 101.43 L74.13 101.14 L74.60 100.85 L75.08 100.55 L75.55 100.24 L76.03 99.92 L76.51 99.60 L77.00 99.26 L77.48 98.92 L77.97 98.58 L78.46 98.22 L78.95 97.85 L79.44 97.48 L79.94 97.10 L80.44 96.71 L80.94 96.31 L81.44 95.90 L81.94 95.48 L82.45 95.05 L82.96 94.61 L83.46 94.16 L83.98 93.70 L84.49 93.24 L85.01 92.76 L85.52 92.27 L86.04 91.77 L86.56 91.26 L87.09 90.75 L87.61 90.22 L88.14 89.69 L88.67 89.16 L89.20 88.61 L89.73 88.06 L90.27 87.51 L90.80 86.95 L91.34 86.39 L91.88 85.82 L92.43 85.25 L92.97 84.67 L93.52 84.10 L94.06 83.52 L94.61 82.94 L95.16 82.36 L95.72 81.78 L96.27 81.20 L96.83 80.62 L97.39 80.05 L97.95 79.48 L98.51 78.91 L99.08 78.35 L99.64 77.79 L100.21 77.24 L100.78 76.69 L101.35 76.15 L101.92 75.62 L102.50 75.10 L103.08 74.59 L103.65 74.08 L104.23 73.59 L104.82 73.11 L105.40 72.63 L105.99 72.17 L106.57 71.72 L107.16 71.29 L107.75 70.86 L108.34 70.45 L108.94 70.05 L109.53 69.67 L110.13 69.30 L110.73 68.95 L111.33 68.61 L111.93 68.28 L112.54 67.98 L113.14 67.69 L113.75 67.41 L114.36 67.16 L114.97 66.92 L115.58 66.69 L116.20 66.49 L116.81 66.30 L117.43 66.13 L118.05 65.98 L118.67 65.84 L119.29 65.73 L119.91 65.63 L120.54 65.55 L121.17 65.49 L121.80 65.45 L122.43 65.43 L123.06 65.42 L123.69 65.43 L124.33 65.47 L124.96 65.52 L125.60 65.59 L126.24 65.68 L126.88 65.79 L127.52 65.92 L128.17 66.07 L128.81 66.23 L129.46 66.42 L130.11 66.62 L130.76 66.84 L131.41 67.08 L132.07 67.33 L132.72 67.61 L133.38 67.90 L134.04 68.20 L134.70 68.53 L135.36 68.87 L136.02 69.22 L136.69 69.59 L137.35 69.98 L138.02 70.38 L138.69 70.80 L139.36 71.23 L140.03 71.68 L140.71 72.14 L141.38 72.61 L142.06 73.10 L142.74 73.60 L143.42 74.12 L144.10 74.65 L144.78 75.19 L145.47 75.75 L146.15 76.31 L146.84 76.89 L147.53 77.48 L148.22 78.08 L148.91 78.69 L149.60 79.31 L150.29 79.94 L150.99 80.58 L151.69 81.23 L152.39 81.89 L153.09 82.56 L153.79 83.24 L154.49 83.92 L155.20 84.61 L155.90 85.31 L156.61 86.02 L157.32 86.73 L158.03 87.45 L158.74 88.17 L159.45 88.91 L160.17 89.64 L160.88 90.39 L161.60 91.14 L162.32 91.89 L163.04 92.65 L163.76 93.42 L164.48 94.19 L165.21 94.97 L165.93 95.75 L166.66 96.53 L167.39 97.32 L168.12 98.12 L168.85 98.92 L169.58 99.72 L170.32 100.53 L171.05 101.34 L171.79 102.15 L172.53 102.97 L173.26 103.79 L174.01 104.62 L174.75 105.45 L175.49 106.28 L176.24 107.12 L176.98 107.96 L177.73 108.80 L178.48 109.65 L179.23 110.49 L179.98 111.34 L180.73 112.20 L181.49 113.05 L182.24 113.91 L183.00 114.77 L183.76 115.64 L184.52 116.50 L185.28 117.37 L186.04 118.24 L186.81 119.11 L187.57 119.98 L188.34 120.86 L189.10 121.73 L189.87 122.61 L190.64 123.49 L191.42 124.37 L192.19 125.25 L192.96 126.13 L193.74 127.02 L194.51 127.90 L195.29 128.79 L196.07 129.67 L196.85 130.56 L197.63 131.45 L198.42 132.34 L199.20 133.23 L199.99 134.12 L200.78 135.01 L201.56 135.90 L202.35 136.79 L203.14 137.68 L203.94 138.57 L204.73 139.46 L205.52 140.35 L206.32 141.24 L207.12 142.12 L207.92 143.01 L208.72 143.89 L209.52 144.78 L210.32 145.66 L211.12 146.54 L211.93 147.42 L212.73 148.30 L213.54 149.17 L214.35 150.04 L215.16 150.91 L215.97 151.77 L216.78 152.64 L217.60 153.49 L218.41 154.35 L219.23 155.20 L220.05 156.05 L220.86 156.90 L221.68 157.74 L222.51 158.57 L223.33 159.41 L224.15 160.23 L224.98 161.06 L225.80 161.88 L226.63 162.69 L227.46 163.50 L228.29 164.30 L229.12 165.10 L229.95 165.90 L230.78 166.69 L231.62 167.47 L232.45 168.24 L233.29 169.02 L234.13 169.78 L234.97 170.54 L235.81 171.29 L236.65 172.04 L237.49 172.78 L238.34 173.51 L239.18 174.23 L240.03 174.95 L240.88 175.66 L241.73 176.37 L242.58 177.06 L243.43 177.75 L244.28 178.43 L245.13 179.10 L245.99 179.77 L246.84 180.43 L247.70 181.07 L248.56 181.72 L249.42 182.35 L250.28 182.97 L251.14 183.59 L252.00 184.19 L252.87 184.79 L253.73 185.38 L254.60 185.96 L255.47 186.53 L256.34 187.09 L257.21 187.64 L258.08 188.18 L258.95 188.72 L259.82 189.24 L260.70 189.75 L261.57 190.26 L262.45 190.75 L263.33 191.24 L264.21 191.72 L265.09 192.19 L265.97 192.65 L266.85 193.10 L267.74 193.54 L268.62 193.97 L269.51 194.40 L270.40 194.81 L271.28 195.22 L272.17 195.62 L273.06 196.01 L273.96 196.39 L274.85 196.76 L275.74 197.13 L276.64 197.49 L277.54 197.84 L278.43 198.18 L279.33 198.51 L280.23 198.84 L281.13 199.15 L282.03 199.46 L282.94 199.77 L283.84 200.06 L284.75 200.35 L285.65 200.63 L286.56 200.90 L287.47 201.16 L288.38 201.42 L289.29 201.67 L290.20 201.92 L291.12 202.15 L292.03 202.38 L292.94 202.60 L293.86 202.82 L294.78 203.02 L295.70 203.22 L296.62 203.42 L297.54 203.61 L298.46 203.79 L299.38 203.96 L300.31 204.13 L301.23 204.30 L302.16 204.45 L303.09 204.61 L304.01 204.75 L304.94 204.89 L305.87 205.03 L306.81 205.16 L307.74 205.28 L308.67 205.40 L309.61 205.52 L310.54 205.63 L311.48 205.74 L312.42 205.84 L313.36 205.93 L314.30 206.03 L315.24 206.12 L316.18 206.20 L317.13 206.28 L318.07 206.36 L319.02 206.43 L319.96 206.50 L320.91 206.57 L321.86 206.63 L322.81 206.69 L323.76 206.74 L324.71 206.80 L325.67 206.85 L326.62 206.89 L327.58 206.94 L328.53 206.98 L329.49 207.02 L330.45 207.05 L331.41 207.08 L332.37 207.12 L333.33 207.14 L334.29 207.17 L335.26 207.19 L336.22 207.22 L337.19 207.24 L338.16 207.25 L339.12 207.27 L340.09 207.28 L341.06 207.29 L342.03 207.30 L343.01 207.31 L343.98 207.32 L344.95 207.32 L345.93 207.32 L346.90 207.32 L347.88 207.32 L348.86 207.31 L349.84 207.31 L350.82 207.30 L351.80 207.29 L352.78 207.28 L353.77 207.26 L354.75 207.25 L355.74 207.23 L356.72 207.21 L357.71 207.19 L358.70 207.17 L359.69 207.14 L360.68 207.12 L361.67 207.09 L362.66 207.06 L363.66 207.03 L364.65 206.99 L365.65 206.96 L366.64 206.92 L367.64 206.88 L368.64 206.84 L369.64 206.80 L370.64 206.76 L371.64 206.71 L372.65 206.67 L373.65 206.62" stroke="#ff8000" stroke-dasharray="0.6 2.28"/>
<path d="M39.55 110.34 L39.58 110.41 L39.63 110.54 L39.71 110.70 L39.79 110.88 L39.89 111.07 L39.99 111.27 L40.11 111.47 L40.23 111.68 L40.36 111.88 L40.50 112.07 L40.64 112.27 L40.80 112.45 L40.95 112.63 L41.12 112.81 L41.29 112.98 L41.47 113.15 L41.65 113.31 L41.84 113.46 L42.03 113.61 L42.23 113.75 L42.43 113.88 L42.64 113.99 L42.86 114.10 L43.07 114.20 L43.30 114.29 L43.52 114.36 L43.76 114.41 L43.99 114.45 L44.23 114.48 L44.48 114.48 L44.72 114.46 L44.98 114.42 L45.23 114.36 L45.49 114.27 L45.76 114.17 L46.02 114.04 L46.30 113.89 L46.57 113.72 L46.85 113.53 L47.13 113.31 L47.42 113.08 L47.71 112.83 L48.00 112.56 L48.30 112.28 L48.60 111.98 L48.90 111.68 L49.21 111.36 L49.52 111.03 L49.83 110.70 L50.15 110.36 L50.47 110.02 L50.79 109.67 L51.11 109.31 L51.44 108.95 L51.78 108.57 L52.11 108.19 L52.45 107.80 L52.79 107.41 L53.13 107.00 L53.48 106.58 L53.83 106.15 L54.18 105.71 L54.54 105.25 L54.90 104.79 L55.26 104.31 L55.62 103.81 L55.99 103.31 L56.36 102.79 L56.73 102.25 L57.10 101.70 L57.48 101.14 L57.86 100.56 L58.24 99.98 L58.63 99.38 L59.02 98.78 L59.41 98.16 L59.80 97.55 L60.20 96.92 L60.60 96.29 L61.00 95.65 L61.40 95.01 L61.81 94.37 L62.21 93.72 L62.63 93.07 L63.04 92.42 L63.45 91.76 L63.87 91.10 L64.29 90.43 L64.72 89.76 L65.14 89.09 L65.57 88.42 L66.00 87.74 L66.43 87.06 L66.87 86.38 L67.30 85.70 L67.74 85.02 L68.18 84.34 L68.63 83.67 L69.07 82.99 L69.52 82.33 L69.97 81.66 L70.43 81.00 L70.88 80.35 L71.34 79.70 L71.80 79.06 L72.26 78.42 L72.72 77.80 L73.19 77.18 L73.66 76.57 L74.13 75.97 L74.60 75.38 L75.08 74.81 L75.55 74.24 L76.03 73.68 L76.51 73.14 L77.00 72.60 L77.48 72.08 L77.97 71.57 L78.46 71.07 L78.95 70.59 L79.44 70.12 L79.94 69.66 L80.44 69.21 L80.94 68.78 L81.44 68.36 L81.94 67.95 L82.45 67.55 L82.96 67.17 L83.46 66.80 L83.98 66.44 L84.49 66.10 L85.01 65.77 L85.52 65.45 L86.04 65.15 L86.56 64.85 L87.09 64.58 L87.61 64.31 L88.14 64.06 L88.67 63.82 L89.20 63.60 L89.73 63.39 L90.27 63.20 L90.80 63.02 L91.34 62.86 L91.88 62.71 L92.43 62.57 L92.97 62.45 L93.52 62.35 L94.06 62.26 L94.61 62.19 L95.16 62.13 L95.72 62.09 L96.27 62.06 L96.83 62.05 L97.39 62.06 L97.95 62.08 L98.51 62.12 L99.08 62.18 L99.64 62.25 L100.21 62.34 L100.78 62.45 L101.35 62.58 L101.92 62.72 L102.50 62.88 L103.08 63.06 L103.65 63.25 L104.23 63.47 L104.82 63.70 L105.40 63.95 L105.99 64.21 L106.57 64.50 L107.16 64.80 L107.75 65.12 L108.34 65.46 L108.94 65.81 L109.53 66.18 L110.13 66.57 L110.73 66.98 L111.33 67.41 L111.93 67.85 L112.54 68.31 L113.14 68.79 L113.75 69.28 L114.36 69.79 L114.97 70.32 L115.58 70.87 L116.20 71.44 L116.81 72.02 L117.43 72.61 L118.05 73.22 L118.67 73.85 L119.29 74.49 L119.91 75.15 L120.54 75.82 L121.17 76.51 L121.80 77.21 L122.43 77.93 L123.06 78.66 L123.69 79.40 L124.33 80.16 L124.96 80.93 L125.60 81.71 L126.24 82.51 L126.88 83.32 L127.52 84.14 L128.17 84.97 L128.81 85.82 L129.46 86.68 L130.11 87.54 L130.76 88.42 L131.41 89.31 L132.07 90.20 L132.72 91.11 L133.38 92.03 L134.04 92.95 L134.70 93.88 L135.36 94.82 L136.02 95.77 L136.69 96.73 L137.35 97.69 L138.02 98.66 L138.69 99.63 L139.36 100.62 L140.03 101.60 L140.71 102.60 L141.38 103.59 L142.06 104.60 L142.74 105.61 L143.42 106.62 L144.10 107.63 L144.78 108.65 L145.47 109.68 L146.15 110.70 L146.84 111.73 L147.53 112.77 L148.22 113.80 L148.91 114.84 L149.60 115.87 L150.29 116.91 L150.99 117.95 L151.69 118.99 L152.39 120.03 L153.09 121.07 L153.79 122.11 L154.49 123.16 L155.20 124.20 L155.90 125.24 L156.61 126.27 L157.32 127.31 L158.03 128.35 L158.74 129.38 L159.45 130.42 L160.17 131.45 L160.88 132.47 L161.60 133.50 L162.32 134.52 L163.04 135.54 L163.76 136.56 L164.48 137.57 L165.21 138.58 L165.93 139.59 L166.66 140.59 L167.39 141.59 L168.12 142.59 L168.85 143.58 L169.58 144.56 L170.32 145.54 L171.05 146.52 L171.79 147.49 L172.53 148.46 L173.26 149.42 L174.01 150.37 L174.75 151.32 L175.49 152.26 L176.24 153.20 L176.98 154.13 L177.73 155.06 L178.48 155.97 L179.23 156.89 L179.98 157.79 L180.73 158.69 L181.49 159.58 L182.24 160.47 L183.00 161.35 L183.76 162.22 L184.52 163.08 L185.28 163.93 L186.04 164.78 L186.81 165.62 L187.57 166.45 L188.34 167.28 L189.10 168.09 L189.87 168.90 L190.64 169.70 L191.42 170.49 L192.19 171.28 L192.96 172.05 L193.74 172.81 L194.51 173.57 L195.29 174.32 L196.07 175.06 L196.85 175.79 L197.63 176.51 L198.42 177.22 L199.20 177.92 L199.99 178.61 L200.78 179.30 L201.56 179.97 L202.35 180.63 L203.14 181.29 L203.94 181.93 L204.73 182.57 L205.52 183.19 L206.32 183.81 L207.12 184.41 L207.92 185.01 L208.72 185.60 L209.52 186.18 L210.32 186.74 L211.12 187.30 L211.93 187.85 L212.73 188.39 L213.54 188.93 L214.35 189.45 L215.16 189.96 L215.97 190.46 L216.78 190.96 L217.60 191.44 L218.41 191.92 L219.23 192.39 L220.05 192.85 L220.86 193.30 L221.68 193.74 L222.51 194.17 L223.33 194.59 L224.15 195.00 L224.98 195.41 L225.80 195.81 L226.63 196.19 L227.46 196.57 L228.29 196.94 L229.12 197.30 L229.95 197.65 L230.78 198.00 L231.62 198.33 L232.45 198.66 L233.29 198.98 L234.13 199.29 L234.97 199.60 L235.81 199.90 L236.65 200.19 L237.49 200.47 L238.34 200.75 L239.18 201.02 L240.03 201.28 L240.88 201.54 L241.73 201.79 L242.58 202.03 L243.43 202.27 L244.28 202.50 L245.13 202.73 L245.99 202.95 L246.84 203.17 L247.70 203.38 L248.56 203.58 L249.42 203.78 L250.28 203.98 L251.14 204.17 L252.00 204.36 L252.87 204.54 L253.73 204.71 L254.60 204.89 L255.47 205.06 L256.34 205.22 L257.21 205.38 L258.08 205.54 L258.95 205.69 L259.82 205.84 L260.70 205.99 L261.57 206.13 L262.45 206.27 L263.33 206.40 L264.21 206.54 L265.09 206.67 L265.97 206.79 L266.85 206.92 L267.74 207.04 L268.62 207.16 L269.51 207.27 L270.40 207.39 L271.28 207.50 L272.17 207.61 L273.06 207.72 L273.96 207.82 L274.85 207.92 L275.74 208.02 L276.64 208.12 L277.54 208.22 L278.43 208.32 L279.33 208.41 L280.23 208.50 L281.13 208.59 L282.03 208.68 L282.94 208.77 L283.84 208.86 L284.75 208.94 L285.65 209.03 L286.56 209.11 L287.47 209.20 L288.38 209.28 L289.29 209.36 L290.20 209.44 L291.12 209.52 L292.03 209.60 L292.94 209.68 L293.86 209.75 L294.78 209.83 L295.70 209.91 L296.62 209.98 L297.54 210.06 L298.46 210.14 L299.38 210.21 L300.31 210.29 L301.23 210.36 L302.16 210.44 L303.09 210.51 L304.01 210.59 L304.94 210.66 L305.87 210.74 L306.81 210.81 L307.74 210.89 L308.67 210.96 L309.61 211.04 L310.54 211.11 L311.48 211.18 L312.42 211.26 L313.36 211.33 L314.30 211.41 L315.24 211.48 L316.18 211.56 L317.13 211.64 L318.07 211.71 L319.02 211.79 L319.96 211.86 L320.91 211.94 L321.86 212.02 L322.81 212.10 L323.76 212.17 L324.71 212.25 L325.67 212.33 L326.62 212.41 L327.58 212.49 L328.53 212.57 L329.49 212.65 L330.45 212.73 L331.41 212.81 L332.37 212.89 L333.33 212.98 L334.29 213.06 L335.26 213.14 L336.22 213.23 L337.19 213.32 L338.16 213.40 L339.12 213.49 L340.09 213.58 L341.06 213.67 L342.03 213.76 L343.01 213.85 L343.98 213.94 L344.95 214.03 L345.93 214.13 L346.90 214.22 L347.88 214.32 L348.86 214.42 L349.84 214.52 L350.82 214.62 L351.80 214.72 L352.78 214.83 L353.77 214.94 L354.75 215.04 L355.74 215.15 L356.72 215.27 L357.71 215.38 L358.70 215.49 L359.69 215.61 L360.68 215.73 L361.67 215.85 L362.66 215.97 L363.66 216.10 L364.65 216.23 L365.65 216.36 L366.64 216.49 L367.64 216.62 L368.64 216.76 L369.64 216.89 L370.64 217.04 L371.64 217.18 L372.65 217.32 L373.65 217.47" stroke="#664422" stroke-dasharray="0.01 3.2 2.6 3.2"/>
</g>
<rect x="39.55" y="16.50" width="334.10" height="206.70" fill="none" stroke="#808080" stroke-width="1"/>
<line x1="39.55" y1="223.20" x2="39.55" y2="219.60" stroke="#808080" stroke-width="0.9"/>
<line x1="39.55" y1="16.50" x2="39.55" y2="20.10" stroke="#808080" stroke-width="0.9"/>
<text x="39.55" y="235.20" font-size="12.3" text-anchor="middle">0</text>
<line x1="52.91" y1="223.20" x2="52.91" y2="221.20" stroke="#808080" stroke-width="0.9"/>
<line x1="52.91" y1="16.50" x2="52.91" y2="18.50" stroke="#808080" stroke-width="0.9"/>
<line x1="66.28" y1="223.20" x2="66.28" y2="221.20" stroke="#808080" stroke-width="0.9"/>
<line x1="66.28" y1="16.50" x2="66.28" y2="18.50" stroke="#808080" stroke-width="0.9"/>
<line x1="79.64" y1="223.20" x2="79.64" y2="221.20" stroke="#808080" stroke-width="0.9"/>
<line x1="79.64" y1="16.50" x2="79.64" y2="18.50" stroke="#808080" stroke-width="0.9"/>
<line x1="93.01" y1="223.20" x2="93.01" y2="221.20" stroke="#808080" stroke-width="0.9"/>
<line x1="93.01" y1="16.50" x2="93.01" y2="18.50" stroke="#808080" stroke-width="0.9"/>
<line x1="106.37" y1="223.20" x2="106.37" y2="219.60" stroke="#808080" stroke-width="0.9"/>
<line x1="106.37" y1="16.50" x2="106.37" y2="20.10" stroke="#808080" stroke-width="0.9"/>
<text x="106.37" y="235.20" font-size="12.3" text-anchor="middle">1</text>
<line x1="119.73" y1="223.20" x2="119.73" y2="221.20" stroke="#808080" stroke-width="0.9"/>
<line x1="119.73" y1="16.50" x2="119.73" y2="18.50" stroke="#808080" stroke-width="0.9"/>
<line x1="133.10" y1="223.20" x2="133.10" y2="221.20" stroke="#808080" stroke-width="0.9"/>
<line x1="133.10" y1="16.50" x2="133.10" y2="18.50" stroke="#808080" stroke-width="0.9"/>
<line x1="146.46" y1="223.20" x2="146.46" y2="221.20" stroke="#808080" stroke-width="0.9"/>
<line x1="146.46" y1="16.50" x2="146.46" y2="18.50" stroke="#808080" stroke-width="0.9"/>
<line x1="159.83" y1="223.20" x2="159.83" y2="221.20" stroke="#808080" stroke-width="0.9"/>
<line x1="159.83" y1="16.50" x2="159.83" y2="18.50" stroke="#808080" stroke-width="0.9"/>
<line x1="173.19" y1="223.20" x2="173.19" y2="219.60" stroke="#808080" stroke-width="0.9"/>
<line x1="173.19" y1="16.50" x2="173.19" y2="20.10" stroke="#808080" stroke-width="0.9"/>
<text x="173.19" y="235.20" font-size="12.3" text-anchor="middle">2</text>
<line x1="186.55" y1="223.20" x2="186.55" y2="221.20" stroke="#808080" stroke-width="0.9"/>
<line x1="186.55" y1="16.50" x2="186.55" y2="18.50" stroke="#808080" stroke-width="0.9"/>
<line x1="199.92" y1="223.20" x2="199.92" y2="221.20" stroke="#808080" stroke-width="0.9"/>
<line x1="199.92" y1="16.50" x2="199.92" y2="18.50" stroke="#808080" stroke-width="0.9"/>
<line x1="213.28" y1="223.20" x2="213.28" y2="221.20" stroke="#808080" stroke-width="0.9"/>
<line x1="213.28" y1="16.50" x2="213.28" y2="18.50" stroke="#808080" stroke-width="0.9"/>
<line x1="226.65" y1="223.20" x2="226.65" y2="221.20" stroke="#808080" stroke-width="0.9"/>
<line x1="226.65" y1="16.50" x2="226.65" y2="18.50" stroke="#808080" stroke-width="0.9"/>
<line x1="240.01" y1="223.20" x2="240.01" y2="219.60" stroke="#808080" stroke-width="0.9"/>
<line x1="240.01" y1="16.50" x2="240.01" y2="20.10" stroke="#808080" stroke-width="0.9"/>
<text x="240.01" y="235.20" font-size="12.3" text-anchor="middle">3</text>
<line x1="253.37" y1="223.20" x2="253.37" y2="221.20" stroke="#808080" stroke-width="0.9"/>
<line x1="253.37" y1="16.50" x2="253.37" y2="18.50" stroke="#808080" stroke-width="0.9"/>
<line x1="266.74" y1="223.20" x2="266.74" y2="221.20" stroke="#808080" stroke-width="0.9"/>
<line x1="266.74" y1="16.50" x2="266.74" y2="18.50" stroke="#808080" stroke-width="0.9"/>
<line x1="280.10" y1="223.20" x2="280.10" y2="221.20" stroke="#808080" stroke-width="0.9"/>
<line x1="280.10" y1="16.50" x2="280.10" y2="18.50" stroke="#808080" stroke-width="0.9"/>
<line x1="293.47" y1="223.20" x2="293.47" y2="221.20" stroke="#808080" stroke-width="0.9"/>
<line x1="293.47" y1="16.50" x2="293.47" y2="18.50" stroke="#808080" stroke-width="0.9"/>
<line x1="306.83" y1="223.20" x2="306.83" y2="219.60" stroke="#808080" stroke-width="0.9"/>
<line x1="306.83" y1="16.50" x2="306.83" y2="20.10" stroke="#808080" stroke-width="0.9"/>
<text x="306.83" y="235.20" font-size="12.3" text-anchor="middle">4</text>
<line x1="320.19" y1="223.20" x2="320.19" y2="221.20" stroke="#808080" stroke-width="0.9"/>
<line x1="320.19" y1="16.50" x2="320.19" y2="18.50" stroke="#808080" stroke-width="0.9"/>
<line x1="333.56" y1="223.20" x2="333.56" y2="221.20" stroke="#808080" stroke-width="0.9"/>
<line x1="333.56" y1="16.50" x2="333.56" y2="18.50" stroke="#808080" stroke-width="0.9"/>
<line x1="346.92" y1="223.20" x2="346.92" y2="221.20" stroke="#808080" stroke-width="0.9"/>
<line x1="346.92" y1="16.50" x2="346.92" y2="18.50" stroke="#808080" stroke-width="0.9"/>
<line x1="360.29" y1="223.20" x2="360.29" y2="221.20" stroke="#808080" stroke-width="0.9"/>
<line x1="360.29" y1="16.50" x2="360.29" y2="18.50" stroke="#808080" stroke-width="0.9"/>
<line x1="373.65" y1="223.20" x2="373.65" y2="219.60" stroke="#808080" stroke-width="0.9"/>
<line x1="373.65" y1="16.50" x2="373.65" y2="20.10" stroke="#808080" stroke-width="0.9"/>
<text x="373.65" y="235.20" font-size="12.3" text-anchor="middle">5</text>
<line x1="39.55" y1="220.02" x2="41.55" y2="220.02" stroke="#808080" stroke-width="0.9"/>
<line x1="373.65" y1="220.02" x2="371.65" y2="220.02" stroke="#808080" stroke-width="0.9"/>
<line x1="39.55" y1="213.66" x2="41.55" y2="213.66" stroke="#808080" stroke-width="0.9"/>
<line x1="373.65" y1="213.66" x2="371.65" y2="213.66" stroke="#808080" stroke-width="0.9"/>
<line x1="39.55" y1="207.30" x2="43.15" y2="207.30" stroke="#808080" stroke-width="0.9"/>
<line x1="373.65" y1="207.30" x2="370.05" y2="207.30" stroke="#808080" stroke-width="0.9"/>
<text x="37.25" y="211.50" font-size="12.3" text-anchor="end">0.2</text>
<line x1="39.55" y1="200.94" x2="41.55" y2="200.94" stroke="#808080" stroke-width="0.9"/>
<line x1="373.65" y1="200.94" x2="371.65" y2="200.94" stroke="#808080" stroke-width="0.9"/>
<line x1="39.55" y1="194.58" x2="41.55" y2="194.58" stroke="#808080" stroke-width="0.9"/>
<line x1="373.65" y1="194.58" x2="371.65" y2="194.58" stroke="#808080" stroke-width="0.9"/>
<line x1="39.55" y1="188.22" x2="41.55" y2="188.22" stroke="#808080" stroke-width="0.9"/>
<line x1="373.65" y1="188.22" x2="371.65" y2="188.22" stroke="#808080" stroke-width="0.9"/>
<line x1="39.55" y1="181.86" x2="41.55" y2="181.86" stroke="#808080" stroke-width="0.9"/>
<line x1="373.65" y1="181.86" x2="371.65" y2="181.86" stroke="#808080" stroke-width="0.9"/>
<line x1="39.55" y1="175.50" x2="43.15" y2="175.50" stroke="#808080" stroke-width="0.9"/>
<line x1="373.65" y1="175.50" x2="370.05" y2="175.50" stroke="#808080" stroke-width="0.9"/>
<text x="37.25" y="179.70" font-size="12.3" text-anchor="end">0.3</text>
<line x1="39.55" y1="169.14" x2="41.55" y2="169.14" stroke="#808080" stroke-width="0.9"/>
<line x1="373.65" y1="169.14" x2="371.65" y2="169.14" stroke="#808080" stroke-width="0.9"/>
<line x1="39.55" y1="162.78" x2="41.55" y2="162.78" stroke="#808080" stroke-width="0.9"/>
<line x1="373.65" y1="162.78" x2="371.65" y2="162.78" stroke="#808080" stroke-width="0.9"/>
<line x1="39.55" y1="156.42" x2="41.55" y2="156.42" stroke="#808080" stroke-width="0.9"/>
<line x1="373.65" y1="156.42" x2="371.65" y2="156.42" stroke="#808080" stroke-width="0.9"/>
<line x1="39.55" y1="150.06" x2="41.55" y2="150.06" stroke="#808080" stroke-width="0.9"/>
<line x1="373.65" y1="150.06" x2="371.65" y2="150.06" stroke="#808080" stroke-width="0.9"/>
<line x1="39.55" y1="143.70" x2="43.15" y2="143.70" stroke="#808080" stroke-width="0.9"/>
<line x1="373.65" y1="143.70" x2="370.05" y2="143.70" stroke="#808080" stroke-width="0.9"/>
<text x="37.25" y="147.90" font-size="12.3" text-anchor="end">0.4</text>
<line x1="39.55" y1="137.34" x2="41.55" y2="137.34" stroke="#808080" stroke-width="0.9"/>
<line x1="373.65" y1="137.34" x2="371.65" y2="137.34" stroke="#808080" stroke-width="0.9"/>
<line x1="39.55" y1="130.98" x2="41.55" y2="130.98" stroke="#808080" stroke-width="0.9"/>
<line x1="373.65" y1="130.98" x2="371.65" y2="130.98" stroke="#808080" stroke-width="0.9"/>
<line x1="39.55" y1="124.62" x2="41.55" y2="124.62" stroke="#808080" stroke-width="0.9"/>
<line x1="373.65" y1="124.62" x2="371.65" y2="124.62" stroke="#808080" stroke-width="0.9"/>
<line x1="39.55" y1="118.26" x2="41.55" y2="118.26" stroke="#808080" stroke-width="0.9"/>
<line x1="373.65" y1="118.26" x2="371.65" y2="118.26" stroke="#808080" stroke-width="0.9"/>
<line x1="39.55" y1="111.90" x2="43.15" y2="111.90" stroke="#808080" stroke-width="0.9"/>
<line x1="373.65" y1="111.90" x2="370.05" y2="111.90" stroke="#808080" stroke-width="0.9"/>
<text x="37.25" y="116.10" font-size="12.3" text-anchor="end">0.5</text>
<line x1="39.55" y1="105.54" x2="41.55" y2="105.54" stroke="#808080" stroke-width="0.9"/>
<line x1="373.65" y1="105.54" x2="371.65" y2="105.54" stroke="#808080" stroke-width="0.9"/>
<line x1="39.55" y1="99.18" x2="41.55" y2="99.18" stroke="#808080" stroke-width="0.9"/>
<line x1="373.65" y1="99.18" x2="371.65" y2="99.18" stroke="#808080" stroke-width="0.9"/>
<line x1="39.55" y1="92.82" x2="41.55" y2="92.82" stroke="#808080" stroke-width="0.9"/>
<line x1="373.65" y1="92.82" x2="371.65" y2="92.82" stroke="#808080" stroke-width="0.9"/>
<line x1="39.55" y1="86.46" x2="41.55" y2="86.46" stroke="#808080" stroke-width="0.9"/>
<line x1="373.65" y1="86.46" x2="371.65" y2="86.46" stroke="#808080" stroke-width="0.9"/>
<line x1="39.55" y1="80.10" x2="43.15" y2="80.10" stroke="#808080" stroke-width="0.9"/>
<line x1="373.65" y1="80.10" x2="370.05" y2="80.10" stroke="#808080" stroke-width="0.9"/>
<text x="37.25" y="84.30" font-size="12.3" text-anchor="end">0.6</text>
<line x1="39.55" y1="73.74" x2="41.55" y2="73.74" stroke="#808080" stroke-width="0.9"/>
<line x1="373.65" y1="73.74" x2="371.65" y2="73.74" stroke="#808080" stroke-width="0.9"/>
<line x1="39.55" y1="67.38" x2="41.55" y2="67.38" stroke="#808080" stroke-width="0.9"/>
<line x1="373.65" y1="67.38" x2="371.65" y2="67.38" stroke="#808080" stroke-width="0.9"/>
<line x1="39.55" y1="61.02" x2="41.55" y2="61.02" stroke="#808080" stroke-width="0.9"/>
<line x1="373.65" y1="61.02" x2="371.65" y2="61.02" stroke="#808080" stroke-width="0.9"/>
<line x1="39.55" y1="54.66" x2="41.55" y2="54.66" stroke="#808080" stroke-width="0.9"/>
<line x1="373.65" y1="54.66" x2="371.65" y2="54.66" stroke="#808080" stroke-width="0.9"/>
<line x1="39.55" y1="48.30" x2="43.15" y2="48.30" stroke="#808080" stroke-width="0.9"/>
<line x1="373.65" y1="48.30" x2="370.05" y2="48.30" stroke="#808080" stroke-width="0.9"/>
<text x="37.25" y="52.50" font-size="12.3" text-anchor="end">0.7</text>
<line x1="39.55" y1="41.94" x2="41.55" y2="41.94" stroke="#808080" stroke-width="0.9"/>
<line x1="373.65" y1="41.94" x2="371.65" y2="41.94" stroke="#808080" stroke-width="0.9"/>
<line x1="39.55" y1="35.58" x2="41.55" y2="35.58" stroke="#808080" stroke-width="0.9"/>
<line x1="373.65" y1="35.58" x2="371.65" y2="35.58" stroke="#808080" stroke-width="0.9"/>
<line x1="39.55" y1="29.22" x2="41.55" y2="29.22" stroke="#808080" stroke-width="0.9"/>
<line x1="373.65" y1="29.22" x2="371.65" y2="29.22" stroke="#808080" stroke-width="0.9"/>
<line x1="39.55" y1="22.86" x2="41.55" y2="22.86" stroke="#808080" stroke-width="0.9"/>
<line x1="373.65" y1="22.86" x2="371.65" y2="22.86" stroke="#808080" stroke-width="0.9"/>
<line x1="39.55" y1="16.50" x2="43.15" y2="16.50" stroke="#808080" stroke-width="0.9"/>
<line x1="373.65" y1="16.50" x2="370.05" y2="16.50" stroke="#808080" stroke-width="0.9"/>
<text x="37.25" y="20.70" font-size="12.3" text-anchor="end">0.8</text>
<text x="-0.8" y="122.3" font-size="12" font-style="italic">η</text>
<text x="6.3" y="124.6" font-size="7.4">TT</text>
<text x="194.60" y="254.00" font-size="11.2" font-style="italic">p</text>
<text x="201.60" y="250.50" font-size="7.2">2</text>
<text x="205.70" y="254.00" font-size="11.2">/</text>
<text x="209.70" y="254.00" font-size="11.2" font-style="italic">k</text>
<text x="215.70" y="250.50" font-size="7.2">2</text>
<clipPath id="ci"><rect x="214.40" y="24.30" width="146.19" height="90.20"/></clipPath>
<g clip-path="url(#ci)" fill="none" stroke-width="1.15" stroke-linecap="round" stroke-linejoin="round">
<path d="M214.40 112.77 L214.45 112.75 L214.55 112.73 L214.67 112.70 L214.82 112.67 L214.98 112.63 L215.17 112.58 L215.36 112.53 L215.58 112.47 L215.81 112.41 L216.05 112.34 L216.30 112.26 L216.56 112.18 L216.84 112.10 L217.13 112.01 L217.43 111.91 L217.73 111.80 L218.05 111.69 L218.38 111.58 L218.71 111.46 L219.06 111.33 L219.41 111.20 L219.77 111.06 L220.14 110.92 L220.52 110.77 L220.91 110.61 L221.30 110.45 L221.71 110.29 L222.12 110.12 L222.53 109.94 L222.96 109.76 L223.39 109.58 L223.83 109.39 L224.27 109.20 L224.72 109.01 L225.18 108.81 L225.65 108.61 L226.12 108.41 L226.60 108.20 L227.08 107.99 L227.57 107.78 L228.07 107.57 L228.57 107.35 L229.08 107.13 L229.60 106.90 L230.12 106.67 L230.65 106.44 L231.18 106.20 L231.72 105.96 L232.26 105.72 L232.81 105.47 L233.37 105.21 L233.93 104.95 L234.49 104.69 L235.06 104.42 L235.64 104.14 L236.22 103.86 L236.81 103.57 L237.40 103.27 L238.00 102.97 L238.60 102.66 L239.21 102.35 L239.82 102.02 L240.44 101.69 L241.06 101.36 L241.69 101.01 L242.32 100.66 L242.96 100.30 L243.60 99.94 L244.25 99.56 L244.90 99.18 L245.55 98.79 L246.22 98.40 L246.88 97.99 L247.55 97.58 L248.22 97.16 L248.90 96.73 L249.59 96.29 L250.27 95.85 L250.97 95.39 L251.66 94.93 L252.36 94.46 L253.07 93.98 L253.78 93.49 L254.49 93.00 L255.21 92.49 L255.93 91.98 L256.66 91.46 L257.39 90.94 L258.12 90.41 L258.86 89.87 L259.61 89.33 L260.35 88.78 L261.10 88.22 L261.86 87.67 L262.62 87.10 L263.38 86.54 L264.15 85.97 L264.92 85.39 L265.70 84.82 L266.48 84.24 L267.26 83.66 L268.05 83.08 L268.84 82.49 L269.63 81.91 L270.43 81.32 L271.23 80.74 L272.04 80.15 L272.85 79.56 L273.66 78.98 L274.48 78.39 L275.30 77.79 L276.13 77.20 L276.95 76.60 L277.79 76.00 L278.62 75.40 L279.46 74.79 L280.30 74.18 L281.15 73.57 L282.00 72.95 L282.86 72.33 L283.71 71.71 L284.57 71.08 L285.44 70.44 L286.31 69.80 L287.18 69.15 L288.05 68.50 L288.93 67.84 L289.81 67.18 L290.70 66.50 L291.59 65.83 L292.48 65.14 L293.38 64.45 L294.28 63.75 L295.18 63.05 L296.08 62.34 L296.99 61.63 L297.91 60.91 L298.82 60.18 L299.74 59.45 L300.66 58.71 L301.59 57.97 L302.52 57.22 L303.45 56.46 L304.39 55.70 L305.33 54.94 L306.27 54.17 L307.21 53.40 L308.16 52.62 L309.11 51.83 L310.07 51.05 L311.03 50.25 L311.99 49.46 L312.95 48.65 L313.92 47.85 L314.89 47.04 L315.87 46.22 L316.84 45.41 L317.82 44.59 L318.81 43.76 L319.79 42.93 L320.78 42.11 L321.78 41.27 L322.77 40.44 L323.77 39.60 L324.77 38.76 L325.78 37.92 L326.79 37.08 L327.80 36.23 L328.81 35.39 L329.83 34.54 L330.85 33.69 L331.87 32.84 L332.90 32.00 L333.93 31.15 L334.96 30.30 L335.99 29.45 L337.03 28.60 L338.07 27.75 L339.11 26.90 L340.16 26.05 L341.21 25.20 L342.26 24.35 L343.32 23.50 L344.38 22.65 L345.44 21.81 L346.50 20.96 L347.57 20.10 L348.64 19.25 L349.71 18.40 L350.79 17.55 L351.86 16.69 L352.94 15.83 L354.03 14.97 L355.12 14.11 L356.20 13.25 L357.30 12.38 L358.39 11.51 L359.49 10.64 L360.59 9.77" stroke="#ff0000"/>
<path d="M214.40 96.42 L214.45 96.44 L214.55 96.47 L214.67 96.51 L214.82 96.57 L214.98 96.62 L215.17 96.69 L215.36 96.75 L215.58 96.82 L215.81 96.89 L216.05 96.97 L216.30 97.04 L216.56 97.12 L216.84 97.20 L217.13 97.28 L217.43 97.35 L217.73 97.43 L218.05 97.51 L218.38 97.59 L218.71 97.66 L219.06 97.74 L219.41 97.81 L219.77 97.89 L220.14 97.96 L220.52 98.03 L220.91 98.09 L221.30 98.16 L221.71 98.22 L222.12 98.28 L222.53 98.34 L222.96 98.40 L223.39 98.46 L223.83 98.51 L224.27 98.56 L224.72 98.61 L225.18 98.66 L225.65 98.70 L226.12 98.74 L226.60 98.79 L227.08 98.82 L227.57 98.86 L228.07 98.90 L228.57 98.93 L229.08 98.96 L229.60 98.98 L230.12 99.00 L230.65 99.02 L231.18 99.04 L231.72 99.05 L232.26 99.06 L232.81 99.06 L233.37 99.06 L233.93 99.06 L234.49 99.05 L235.06 99.03 L235.64 99.01 L236.22 98.99 L236.81 98.96 L237.40 98.93 L238.00 98.89 L238.60 98.84 L239.21 98.79 L239.82 98.74 L240.44 98.68 L241.06 98.61 L241.69 98.53 L242.32 98.45 L242.96 98.37 L243.60 98.28 L244.25 98.18 L244.90 98.08 L245.55 97.97 L246.22 97.86 L246.88 97.74 L247.55 97.61 L248.22 97.48 L248.90 97.34 L249.59 97.20 L250.27 97.05 L250.97 96.89 L251.66 96.73 L252.36 96.56 L253.07 96.39 L253.78 96.21 L254.49 96.03 L255.21 95.84 L255.93 95.64 L256.66 95.44 L257.39 95.24 L258.12 95.03 L258.86 94.81 L259.61 94.60 L260.35 94.37 L261.10 94.15 L261.86 93.92 L262.62 93.69 L263.38 93.45 L264.15 93.22 L264.92 92.98 L265.70 92.73 L266.48 92.49 L267.26 92.24 L268.05 91.99 L268.84 91.74 L269.63 91.49 L270.43 91.23 L271.23 90.98 L272.04 90.73 L272.85 90.47 L273.66 90.21 L274.48 89.95 L275.30 89.69 L276.13 89.43 L276.95 89.17 L277.79 88.90 L278.62 88.64 L279.46 88.37 L280.30 88.10 L281.15 87.83 L282.00 87.56 L282.86 87.28 L283.71 87.01 L284.57 86.73 L285.44 86.45 L286.31 86.17 L287.18 85.88 L288.05 85.60 L288.93 85.31 L289.81 85.02 L290.70 84.73 L291.59 84.43 L292.48 84.13 L293.38 83.83 L294.28 83.53 L295.18 83.22 L296.08 82.92 L296.99 82.60 L297.91 82.29 L298.82 81.97 L299.74 81.65 L300.66 81.33 L301.59 81.00 L302.52 80.67 L303.45 80.33 L304.39 79.99 L305.33 79.65 L306.27 79.30 L307.21 78.95 L308.16 78.59 L309.11 78.23 L310.07 77.87 L311.03 77.50 L311.99 77.13 L312.95 76.75 L313.92 76.37 L314.89 75.98 L315.87 75.59 L316.84 75.19 L317.82 74.79 L318.81 74.39 L319.79 73.98 L320.78 73.57 L321.78 73.15 L322.77 72.72 L323.77 72.30 L324.77 71.87 L325.78 71.43 L326.79 70.99 L327.80 70.55 L328.81 70.10 L329.83 69.65 L330.85 69.20 L331.87 68.74 L332.90 68.27 L333.93 67.81 L334.96 67.34 L335.99 66.86 L337.03 66.38 L338.07 65.90 L339.11 65.42 L340.16 64.93 L341.21 64.43 L342.26 63.94 L343.32 63.44 L344.38 62.94 L345.44 62.43 L346.50 61.92 L347.57 61.41 L348.64 60.89 L349.71 60.37 L350.79 59.85 L351.86 59.32 L352.94 58.80 L354.03 58.27 L355.12 57.73 L356.20 57.20 L357.30 56.66 L358.39 56.12 L359.49 55.57 L360.59 55.03" stroke="#0aaa0a" stroke-dasharray="6.8 10.5"/>
<path d="M214.40 71.00 L214.45 71.05 L214.55 71.16 L214.67 71.29 L214.82 71.44 L214.98 71.61 L215.17 71.80 L215.36 72.00 L215.58 72.21 L215.81 72.42 L216.05 72.64 L216.30 72.87 L216.56 73.10 L216.84 73.33 L217.13 73.56 L217.43 73.79 L217.73 74.03 L218.05 74.26 L218.38 74.49 L218.71 74.71 L219.06 74.94 L219.41 75.16 L219.77 75.38 L220.14 75.59 L220.52 75.80 L220.91 76.01 L221.30 76.21 L221.71 76.40 L222.12 76.59 L222.53 76.78 L222.96 76.97 L223.39 77.15 L223.83 77.32 L224.27 77.50 L224.72 77.67 L225.18 77.83 L225.65 78.00 L226.12 78.16 L226.60 78.32 L227.08 78.48 L227.57 78.64 L228.07 78.79 L228.57 78.95 L229.08 79.10 L229.60 79.25 L230.12 79.39 L230.65 79.54 L231.18 79.68 L231.72 79.82 L232.26 79.96 L232.81 80.09 L233.37 80.23 L233.93 80.36 L234.49 80.49 L235.06 80.61 L235.64 80.74 L236.22 80.87 L236.81 80.99 L237.40 81.11 L238.00 81.23 L238.60 81.35 L239.21 81.47 L239.82 81.58 L240.44 81.69 L241.06 81.81 L241.69 81.92 L242.32 82.03 L242.96 82.13 L243.60 82.24 L244.25 82.34 L244.90 82.44 L245.55 82.54 L246.22 82.63 L246.88 82.72 L247.55 82.81 L248.22 82.90 L248.90 82.98 L249.59 83.06 L250.27 83.14 L250.97 83.22 L251.66 83.29 L252.36 83.36 L253.07 83.42 L253.78 83.48 L254.49 83.54 L255.21 83.59 L255.93 83.64 L256.66 83.68 L257.39 83.73 L258.12 83.76 L258.86 83.79 L259.61 83.82 L260.35 83.84 L261.10 83.86 L261.86 83.87 L262.62 83.88 L263.38 83.89 L264.15 83.88 L264.92 83.87 L265.70 83.86 L266.48 83.84 L267.26 83.82 L268.05 83.79 L268.84 83.75 L269.63 83.71 L270.43 83.66 L271.23 83.60 L272.04 83.54 L272.85 83.47 L273.66 83.40 L274.48 83.32 L275.30 83.23 L276.13 83.14 L276.95 83.04 L277.79 82.94 L278.62 82.83 L279.46 82.72 L280.30 82.60 L281.15 82.47 L282.00 82.34 L282.86 82.21 L283.71 82.07 L284.57 81.92 L285.44 81.77 L286.31 81.61 L287.18 81.45 L288.05 81.28 L288.93 81.11 L289.81 80.93 L290.70 80.75 L291.59 80.57 L292.48 80.38 L293.38 80.18 L294.28 79.99 L295.18 79.79 L296.08 79.58 L296.99 79.37 L297.91 79.16 L298.82 78.95 L299.74 78.74 L300.66 78.52 L301.59 78.30 L302.52 78.08 L303.45 77.86 L304.39 77.64 L305.33 77.42 L306.27 77.19 L307.21 76.97 L308.16 76.75 L309.11 76.52 L310.07 76.30 L311.03 76.08 L311.99 75.86 L312.95 75.64 L313.92 75.42 L314.89 75.20 L315.87 74.98 L316.84 74.76 L317.82 74.55 L318.81 74.33 L319.79 74.12 L320.78 73.90 L321.78 73.69 L322.77 73.47 L323.77 73.26 L324.77 73.04 L325.78 72.83 L326.79 72.62 L327.80 72.40 L328.81 72.19 L329.83 71.97 L330.85 71.76 L331.87 71.54 L332.90 71.32 L333.93 71.10 L334.96 70.89 L335.99 70.67 L337.03 70.45 L338.07 70.22 L339.11 70.00 L340.16 69.78 L341.21 69.55 L342.26 69.32 L343.32 69.09 L344.38 68.86 L345.44 68.63 L346.50 68.39 L347.57 68.16 L348.64 67.92 L349.71 67.67 L350.79 67.43 L351.86 67.18 L352.94 66.93 L354.03 66.67 L355.12 66.41 L356.20 66.15 L357.30 65.88 L358.39 65.61 L359.49 65.33 L360.59 65.06" stroke="#0000ff" stroke-dasharray="3.5 5.4"/>
<path d="M214.40 46.57 L214.45 46.64 L214.55 46.78 L214.67 46.96 L214.82 47.17 L214.98 47.41 L215.17 47.66 L215.36 47.94 L215.58 48.23 L215.81 48.53 L216.05 48.84 L216.30 49.16 L216.56 49.49 L216.84 49.83 L217.13 50.18 L217.43 50.52 L217.73 50.87 L218.05 51.23 L218.38 51.58 L218.71 51.94 L219.06 52.30 L219.41 52.65 L219.77 53.01 L220.14 53.36 L220.52 53.72 L220.91 54.07 L221.30 54.42 L221.71 54.76 L222.12 55.11 L222.53 55.45 L222.96 55.79 L223.39 56.13 L223.83 56.47 L224.27 56.80 L224.72 57.13 L225.18 57.46 L225.65 57.79 L226.12 58.11 L226.60 58.44 L227.08 58.76 L227.57 59.08 L228.07 59.40 L228.57 59.72 L229.08 60.03 L229.60 60.34 L230.12 60.65 L230.65 60.96 L231.18 61.27 L231.72 61.57 L232.26 61.87 L232.81 62.17 L233.37 62.47 L233.93 62.76 L234.49 63.05 L235.06 63.34 L235.64 63.62 L236.22 63.91 L236.81 64.19 L237.40 64.47 L238.00 64.74 L238.60 65.02 L239.21 65.29 L239.82 65.56 L240.44 65.83 L241.06 66.09 L241.69 66.35 L242.32 66.61 L242.96 66.87 L243.60 67.12 L244.25 67.36 L244.90 67.61 L245.55 67.85 L246.22 68.08 L246.88 68.31 L247.55 68.54 L248.22 68.76 L248.90 68.98 L249.59 69.19 L250.27 69.40 L250.97 69.60 L251.66 69.80 L252.36 69.99 L253.07 70.17 L253.78 70.35 L254.49 70.53 L255.21 70.70 L255.93 70.86 L256.66 71.01 L257.39 71.16 L258.12 71.31 L258.86 71.45 L259.61 71.58 L260.35 71.70 L261.10 71.82 L261.86 71.94 L262.62 72.05 L263.38 72.15 L264.15 72.25 L264.92 72.34 L265.70 72.42 L266.48 72.50 L267.26 72.57 L268.05 72.64 L268.84 72.70 L269.63 72.75 L270.43 72.80 L271.23 72.85 L272.04 72.88 L272.85 72.91 L273.66 72.94 L274.48 72.96 L275.30 72.98 L276.13 72.99 L276.95 72.99 L277.79 72.99 L278.62 72.99 L279.46 72.98 L280.30 72.97 L281.15 72.95 L282.00 72.93 L282.86 72.91 L283.71 72.88 L284.57 72.85 L285.44 72.81 L286.31 72.77 L287.18 72.73 L288.05 72.68 L288.93 72.63 L289.81 72.58 L290.70 72.53 L291.59 72.47 L292.48 72.41 L293.38 72.35 L294.28 72.28 L295.18 72.22 L296.08 72.15 L296.99 72.08 L297.91 72.01 L298.82 71.93 L299.74 71.86 L300.66 71.78 L301.59 71.70 L302.52 71.62 L303.45 71.54 L304.39 71.46 L305.33 71.37 L306.27 71.29 L307.21 71.20 L308.16 71.12 L309.11 71.03 L310.07 70.94 L311.03 70.86 L311.99 70.77 L312.95 70.68 L313.92 70.59 L314.89 70.50 L315.87 70.41 L316.84 70.33 L317.82 70.24 L318.81 70.15 L319.79 70.05 L320.78 69.96 L321.78 69.87 L322.77 69.78 L323.77 69.68 L324.77 69.58 L325.78 69.49 L326.79 69.39 L327.80 69.29 L328.81 69.19 L329.83 69.08 L330.85 68.98 L331.87 68.87 L332.90 68.77 L333.93 68.66 L334.96 68.54 L335.99 68.43 L337.03 68.32 L338.07 68.20 L339.11 68.08 L340.16 67.96 L341.21 67.83 L342.26 67.71 L343.32 67.58 L344.38 67.45 L345.44 67.31 L346.50 67.18 L347.57 67.04 L348.64 66.90 L349.71 66.75 L350.79 66.60 L351.86 66.45 L352.94 66.30 L354.03 66.15 L355.12 65.99 L356.20 65.83 L357.30 65.66 L358.39 65.50 L359.49 65.33 L360.59 65.15" stroke="#000000" stroke-dasharray="1.8 3.5"/>
<path d="M214.40 26.32 L214.45 26.46 L214.55 26.72 L214.67 27.04 L214.82 27.43 L214.98 27.86 L215.17 28.32 L215.36 28.81 L215.58 29.33 L215.81 29.88 L216.05 30.43 L216.30 31.00 L216.56 31.59 L216.84 32.18 L217.13 32.77 L217.43 33.37 L217.73 33.97 L218.05 34.57 L218.38 35.17 L218.71 35.76 L219.06 36.35 L219.41 36.93 L219.77 37.51 L220.14 38.08 L220.52 38.64 L220.91 39.19 L221.30 39.74 L221.71 40.27 L222.12 40.80 L222.53 41.31 L222.96 41.82 L223.39 42.32 L223.83 42.82 L224.27 43.30 L224.72 43.78 L225.18 44.25 L225.65 44.72 L226.12 45.18 L226.60 45.64 L227.08 46.09 L227.57 46.53 L228.07 46.97 L228.57 47.41 L229.08 47.84 L229.60 48.26 L230.12 48.68 L230.65 49.09 L231.18 49.49 L231.72 49.89 L232.26 50.29 L232.81 50.68 L233.37 51.06 L233.93 51.43 L234.49 51.80 L235.06 52.17 L235.64 52.53 L236.22 52.88 L236.81 53.23 L237.40 53.57 L238.00 53.91 L238.60 54.24 L239.21 54.57 L239.82 54.90 L240.44 55.21 L241.06 55.53 L241.69 55.84 L242.32 56.14 L242.96 56.44 L243.60 56.73 L244.25 57.01 L244.90 57.30 L245.55 57.57 L246.22 57.84 L246.88 58.11 L247.55 58.37 L248.22 58.62 L248.90 58.87 L249.59 59.11 L250.27 59.35 L250.97 59.58 L251.66 59.81 L252.36 60.03 L253.07 60.24 L253.78 60.45 L254.49 60.66 L255.21 60.85 L255.93 61.05 L256.66 61.23 L257.39 61.42 L258.12 61.59 L258.86 61.77 L259.61 61.94 L260.35 62.10 L261.10 62.26 L261.86 62.42 L262.62 62.57 L263.38 62.71 L264.15 62.86 L264.92 63.00 L265.70 63.14 L266.48 63.27 L267.26 63.40 L268.05 63.53 L268.84 63.65 L269.63 63.77 L270.43 63.89 L271.23 64.01 L272.04 64.12 L272.85 64.24 L273.66 64.35 L274.48 64.45 L275.30 64.56 L276.13 64.66 L276.95 64.76 L277.79 64.86 L278.62 64.96 L279.46 65.05 L280.30 65.14 L281.15 65.23 L282.00 65.32 L282.86 65.41 L283.71 65.49 L284.57 65.57 L285.44 65.65 L286.31 65.73 L287.18 65.81 L288.05 65.88 L288.93 65.96 L289.81 66.03 L290.70 66.10 L291.59 66.17 L292.48 66.23 L293.38 66.30 L294.28 66.36 L295.18 66.42 L296.08 66.48 L296.99 66.53 L297.91 66.59 L298.82 66.64 L299.74 66.69 L300.66 66.73 L301.59 66.78 L302.52 66.82 L303.45 66.86 L304.39 66.90 L305.33 66.93 L306.27 66.96 L307.21 66.99 L308.16 67.02 L309.11 67.04 L310.07 67.06 L311.03 67.08 L311.99 67.09 L312.95 67.10 L313.92 67.11 L314.89 67.11 L315.87 67.11 L316.84 67.11 L317.82 67.11 L318.81 67.10 L319.79 67.09 L320.78 67.08 L321.78 67.06 L322.77 67.04 L323.77 67.02 L324.77 67.00 L325.78 66.97 L326.79 66.94 L327.80 66.91 L328.81 66.88 L329.83 66.84 L330.85 66.81 L331.87 66.77 L332.90 66.72 L333.93 66.68 L334.96 66.63 L335.99 66.58 L337.03 66.53 L338.07 66.48 L339.11 66.43 L340.16 66.37 L341.21 66.31 L342.26 66.25 L343.32 66.19 L344.38 66.13 L345.44 66.06 L346.50 66.00 L347.57 65.93 L348.64 65.86 L349.71 65.78 L350.79 65.71 L351.86 65.63 L352.94 65.55 L354.03 65.47 L355.12 65.39 L356.20 65.31 L357.30 65.22 L358.39 65.14 L359.49 65.05 L360.59 64.96" stroke="#ff8000" stroke-dasharray="0.01 3.0"/>
<path d="M214.40 73.99 L214.45 74.04 L214.55 74.13 L214.67 74.24 L214.82 74.38 L214.98 74.53 L215.17 74.69 L215.36 74.86 L215.58 75.05 L215.81 75.24 L216.05 75.44 L216.30 75.64 L216.56 75.85 L216.84 76.07 L217.13 76.28 L217.43 76.50 L217.73 76.72 L218.05 76.94 L218.38 77.16 L218.71 77.39 L219.06 77.61 L219.41 77.83 L219.77 78.05 L220.14 78.27 L220.52 78.48 L220.91 78.70 L221.30 78.91 L221.71 79.12 L222.12 79.33 L222.53 79.54 L222.96 79.74 L223.39 79.94 L223.83 80.14 L224.27 80.34 L224.72 80.54 L225.18 80.73 L225.65 80.92 L226.12 81.11 L226.60 81.30 L227.08 81.48 L227.57 81.67 L228.07 81.85 L228.57 82.03 L229.08 82.20 L229.60 82.38 L230.12 82.55 L230.65 82.72 L231.18 82.88 L231.72 83.04 L232.26 83.20 L232.81 83.35 L233.37 83.51 L233.93 83.65 L234.49 83.80 L235.06 83.93 L235.64 84.07 L236.22 84.20 L236.81 84.33 L237.40 84.45 L238.00 84.57 L238.60 84.68 L239.21 84.79 L239.82 84.90 L240.44 85.00 L241.06 85.09 L241.69 85.18 L242.32 85.27 L242.96 85.34 L243.60 85.41 L244.25 85.48 L244.90 85.54 L245.55 85.59 L246.22 85.63 L246.88 85.67 L247.55 85.70 L248.22 85.72 L248.90 85.73 L249.59 85.74 L250.27 85.74 L250.97 85.72 L251.66 85.70 L252.36 85.67 L253.07 85.64 L253.78 85.59 L254.49 85.53 L255.21 85.46 L255.93 85.39 L256.66 85.30 L257.39 85.20 L258.12 85.10 L258.86 84.99 L259.61 84.86 L260.35 84.73 L261.10 84.59 L261.86 84.44 L262.62 84.28 L263.38 84.11 L264.15 83.93 L264.92 83.75 L265.70 83.55 L266.48 83.35 L267.26 83.14 L268.05 82.92 L268.84 82.69 L269.63 82.45 L270.43 82.20 L271.23 81.95 L272.04 81.69 L272.85 81.42 L273.66 81.14 L274.48 80.86 L275.30 80.56 L276.13 80.27 L276.95 79.96 L277.79 79.65 L278.62 79.34 L279.46 79.01 L280.30 78.69 L281.15 78.36 L282.00 78.02 L282.86 77.68 L283.71 77.33 L284.57 76.98 L285.44 76.63 L286.31 76.28 L287.18 75.92 L288.05 75.56 L288.93 75.19 L289.81 74.83 L290.70 74.46 L291.59 74.09 L292.48 73.71 L293.38 73.34 L294.28 72.96 L295.18 72.58 L296.08 72.20 L296.99 71.81 L297.91 71.43 L298.82 71.03 L299.74 70.64 L300.66 70.24 L301.59 69.84 L302.52 69.44 L303.45 69.03 L304.39 68.62 L305.33 68.21 L306.27 67.79 L307.21 67.36 L308.16 66.94 L309.11 66.51 L310.07 66.08 L311.03 65.64 L311.99 65.19 L312.95 64.75 L313.92 64.30 L314.89 63.84 L315.87 63.38 L316.84 62.92 L317.82 62.45 L318.81 61.97 L319.79 61.49 L320.78 61.01 L321.78 60.52 L322.77 60.03 L323.77 59.53 L324.77 59.02 L325.78 58.51 L326.79 58.00 L327.80 57.48 L328.81 56.95 L329.83 56.42 L330.85 55.88 L331.87 55.34 L332.90 54.79 L333.93 54.23 L334.96 53.67 L335.99 53.11 L337.03 52.53 L338.07 51.96 L339.11 51.37 L340.16 50.78 L341.21 50.18 L342.26 49.58 L343.32 48.97 L344.38 48.36 L345.44 47.74 L346.50 47.12 L347.57 46.49 L348.64 45.85 L349.71 45.22 L350.79 44.57 L351.86 43.93 L352.94 43.28 L354.03 42.62 L355.12 41.96 L356.20 41.30 L357.30 40.64 L358.39 39.97 L359.49 39.30 L360.59 38.62" stroke="#664422" stroke-dasharray="0.1 3.4 2.8 3.4"/>
</g>
<rect x="214.40" y="24.30" width="146.19" height="90.20" fill="none" stroke="#808080" stroke-width="0.8"/>
<line x1="214.40" y1="114.50" x2="214.40" y2="111.90" stroke="#666" stroke-width="0.8"/>
<line x1="214.40" y1="24.30" x2="214.40" y2="26.90" stroke="#666" stroke-width="0.8"/>
<text x="214.40" y="122.10" font-size="6.6" text-anchor="middle">0.00</text>
<line x1="219.27" y1="114.50" x2="219.27" y2="112.90" stroke="#666" stroke-width="0.8"/>
<line x1="219.27" y1="24.30" x2="219.27" y2="25.90" stroke="#666" stroke-width="0.8"/>
<line x1="224.15" y1="114.50" x2="224.15" y2="112.90" stroke="#666" stroke-width="0.8"/>
<line x1="224.15" y1="24.30" x2="224.15" y2="25.90" stroke="#666" stroke-width="0.8"/>
<line x1="229.02" y1="114.50" x2="229.02" y2="112.90" stroke="#666" stroke-width="0.8"/>
<line x1="229.02" y1="24.30" x2="229.02" y2="25.90" stroke="#666" stroke-width="0.8"/>
<line x1="233.89" y1="114.50" x2="233.89" y2="112.90" stroke="#666" stroke-width="0.8"/>
<line x1="233.89" y1="24.30" x2="233.89" y2="25.90" stroke="#666" stroke-width="0.8"/>
<line x1="238.77" y1="114.50" x2="238.77" y2="111.90" stroke="#666" stroke-width="0.8"/>
<line x1="238.77" y1="24.30" x2="238.77" y2="26.90" stroke="#666" stroke-width="0.8"/>
<text x="238.77" y="122.10" font-size="6.6" text-anchor="middle">0.05</text>
<line x1="243.64" y1="114.50" x2="243.64" y2="112.90" stroke="#666" stroke-width="0.8"/>
<line x1="243.64" y1="24.30" x2="243.64" y2="25.90" stroke="#666" stroke-width="0.8"/>
<line x1="248.51" y1="114.50" x2="248.51" y2="112.90" stroke="#666" stroke-width="0.8"/>
<line x1="248.51" y1="24.30" x2="248.51" y2="25.90" stroke="#666" stroke-width="0.8"/>
<line x1="253.38" y1="114.50" x2="253.38" y2="112.90" stroke="#666" stroke-width="0.8"/>
<line x1="253.38" y1="24.30" x2="253.38" y2="25.90" stroke="#666" stroke-width="0.8"/>
<line x1="258.26" y1="114.50" x2="258.26" y2="112.90" stroke="#666" stroke-width="0.8"/>
<line x1="258.26" y1="24.30" x2="258.26" y2="25.90" stroke="#666" stroke-width="0.8"/>
<line x1="263.13" y1="114.50" x2="263.13" y2="111.90" stroke="#666" stroke-width="0.8"/>
<line x1="263.13" y1="24.30" x2="263.13" y2="26.90" stroke="#666" stroke-width="0.8"/>
<text x="263.13" y="122.10" font-size="6.6" text-anchor="middle">0.10</text>
<line x1="268.00" y1="114.50" x2="268.00" y2="112.90" stroke="#666" stroke-width="0.8"/>
<line x1="268.00" y1="24.30" x2="268.00" y2="25.90" stroke="#666" stroke-width="0.8"/>
<line x1="272.88" y1="114.50" x2="272.88" y2="112.90" stroke="#666" stroke-width="0.8"/>
<line x1="272.88" y1="24.30" x2="272.88" y2="25.90" stroke="#666" stroke-width="0.8"/>
<line x1="277.75" y1="114.50" x2="277.75" y2="112.90" stroke="#666" stroke-width="0.8"/>
<line x1="277.75" y1="24.30" x2="277.75" y2="25.90" stroke="#666" stroke-width="0.8"/>
<line x1="282.62" y1="114.50" x2="282.62" y2="112.90" stroke="#666" stroke-width="0.8"/>
<line x1="282.62" y1="24.30" x2="282.62" y2="25.90" stroke="#666" stroke-width="0.8"/>
<line x1="287.50" y1="114.50" x2="287.50" y2="111.90" stroke="#666" stroke-width="0.8"/>
<line x1="287.50" y1="24.30" x2="287.50" y2="26.90" stroke="#666" stroke-width="0.8"/>
<text x="287.50" y="122.10" font-size="6.6" text-anchor="middle">0.15</text>
<line x1="292.37" y1="114.50" x2="292.37" y2="112.90" stroke="#666" stroke-width="0.8"/>
<line x1="292.37" y1="24.30" x2="292.37" y2="25.90" stroke="#666" stroke-width="0.8"/>
<line x1="297.24" y1="114.50" x2="297.24" y2="112.90" stroke="#666" stroke-width="0.8"/>
<line x1="297.24" y1="24.30" x2="297.24" y2="25.90" stroke="#666" stroke-width="0.8"/>
<line x1="302.11" y1="114.50" x2="302.11" y2="112.90" stroke="#666" stroke-width="0.8"/>
<line x1="302.11" y1="24.30" x2="302.11" y2="25.90" stroke="#666" stroke-width="0.8"/>
<line x1="306.99" y1="114.50" x2="306.99" y2="112.90" stroke="#666" stroke-width="0.8"/>
<line x1="306.99" y1="24.30" x2="306.99" y2="25.90" stroke="#666" stroke-width="0.8"/>
<line x1="311.86" y1="114.50" x2="311.86" y2="111.90" stroke="#666" stroke-width="0.8"/>
<line x1="311.86" y1="24.30" x2="311.86" y2="26.90" stroke="#666" stroke-width="0.8"/>
<text x="311.86" y="122.10" font-size="6.6" text-anchor="middle">0.20</text>
<line x1="316.73" y1="114.50" x2="316.73" y2="112.90" stroke="#666" stroke-width="0.8"/>
<line x1="316.73" y1="24.30" x2="316.73" y2="25.90" stroke="#666" stroke-width="0.8"/>
<line x1="321.61" y1="114.50" x2="321.61" y2="112.90" stroke="#666" stroke-width="0.8"/>
<line x1="321.61" y1="24.30" x2="321.61" y2="25.90" stroke="#666" stroke-width="0.8"/>
<line x1="326.48" y1="114.50" x2="326.48" y2="112.90" stroke="#666" stroke-width="0.8"/>
<line x1="326.48" y1="24.30" x2="326.48" y2="25.90" stroke="#666" stroke-width="0.8"/>
<line x1="331.35" y1="114.50" x2="331.35" y2="112.90" stroke="#666" stroke-width="0.8"/>
<line x1="331.35" y1="24.30" x2="331.35" y2="25.90" stroke="#666" stroke-width="0.8"/>
<line x1="336.23" y1="114.50" x2="336.23" y2="111.90" stroke="#666" stroke-width="0.8"/>
<line x1="336.23" y1="24.30" x2="336.23" y2="26.90" stroke="#666" stroke-width="0.8"/>
<text x="336.23" y="122.10" font-size="6.6" text-anchor="middle">0.25</text>
<line x1="341.10" y1="114.50" x2="341.10" y2="112.90" stroke="#666" stroke-width="0.8"/>
<line x1="341.10" y1="24.30" x2="341.10" y2="25.90" stroke="#666" stroke-width="0.8"/>
<line x1="345.97" y1="114.50" x2="345.97" y2="112.90" stroke="#666" stroke-width="0.8"/>
<line x1="345.97" y1="24.30" x2="345.97" y2="25.90" stroke="#666" stroke-width="0.8"/>
<line x1="350.84" y1="114.50" x2="350.84" y2="112.90" stroke="#666" stroke-width="0.8"/>
<line x1="350.84" y1="24.30" x2="350.84" y2="25.90" stroke="#666" stroke-width="0.8"/>
<line x1="355.72" y1="114.50" x2="355.72" y2="112.90" stroke="#666" stroke-width="0.8"/>
<line x1="355.72" y1="24.30" x2="355.72" y2="25.90" stroke="#666" stroke-width="0.8"/>
<line x1="360.59" y1="114.50" x2="360.59" y2="111.90" stroke="#666" stroke-width="0.8"/>
<line x1="360.59" y1="24.30" x2="360.59" y2="26.90" stroke="#666" stroke-width="0.8"/>
<text x="360.59" y="122.10" font-size="6.6" text-anchor="middle">0.30</text>
<line x1="214.40" y1="114.50" x2="217.00" y2="114.50" stroke="#666" stroke-width="0.8"/>
<line x1="360.59" y1="114.50" x2="357.99" y2="114.50" stroke="#666" stroke-width="0.8"/>
<text x="211.70" y="116.90" font-size="6.6" text-anchor="end">0.46</text>
<line x1="214.40" y1="109.99" x2="216.00" y2="109.99" stroke="#666" stroke-width="0.8"/>
<line x1="360.59" y1="109.99" x2="358.99" y2="109.99" stroke="#666" stroke-width="0.8"/>
<line x1="214.40" y1="105.48" x2="216.00" y2="105.48" stroke="#666" stroke-width="0.8"/>
<line x1="360.59" y1="105.48" x2="358.99" y2="105.48" stroke="#666" stroke-width="0.8"/>
<line x1="214.40" y1="100.97" x2="216.00" y2="100.97" stroke="#666" stroke-width="0.8"/>
<line x1="360.59" y1="100.97" x2="358.99" y2="100.97" stroke="#666" stroke-width="0.8"/>
<line x1="214.40" y1="96.46" x2="217.00" y2="96.46" stroke="#666" stroke-width="0.8"/>
<line x1="360.59" y1="96.46" x2="357.99" y2="96.46" stroke="#666" stroke-width="0.8"/>
<text x="211.70" y="98.86" font-size="6.6" text-anchor="end">0.48</text>
<line x1="214.40" y1="91.95" x2="216.00" y2="91.95" stroke="#666" stroke-width="0.8"/>
<line x1="360.59" y1="91.95" x2="358.99" y2="91.95" stroke="#666" stroke-width="0.8"/>
<line x1="214.40" y1="87.44" x2="216.00" y2="87.44" stroke="#666" stroke-width="0.8"/>
<line x1="360.59" y1="87.44" x2="358.99" y2="87.44" stroke="#666" stroke-width="0.8"/>
<line x1="214.40" y1="82.93" x2="216.00" y2="82.93" stroke="#666" stroke-width="0.8"/>
<line x1="360.59" y1="82.93" x2="358.99" y2="82.93" stroke="#666" stroke-width="0.8"/>
<line x1="214.40" y1="78.42" x2="217.00" y2="78.42" stroke="#666" stroke-width="0.8"/>
<line x1="360.59" y1="78.42" x2="357.99" y2="78.42" stroke="#666" stroke-width="0.8"/>
<text x="211.70" y="80.82" font-size="6.6" text-anchor="end">0.50</text>
<line x1="214.40" y1="73.91" x2="216.00" y2="73.91" stroke="#666" stroke-width="0.8"/>
<line x1="360.59" y1="73.91" x2="358.99" y2="73.91" stroke="#666" stroke-width="0.8"/>
<line x1="214.40" y1="69.40" x2="216.00" y2="69.40" stroke="#666" stroke-width="0.8"/>
<line x1="360.59" y1="69.40" x2="358.99" y2="69.40" stroke="#666" stroke-width="0.8"/>
<line x1="214.40" y1="64.89" x2="216.00" y2="64.89" stroke="#666" stroke-width="0.8"/>
<line x1="360.59" y1="64.89" x2="358.99" y2="64.89" stroke="#666" stroke-width="0.8"/>
<line x1="214.40" y1="60.38" x2="217.00" y2="60.38" stroke="#666" stroke-width="0.8"/>
<line x1="360.59" y1="60.38" x2="357.99" y2="60.38" stroke="#666" stroke-width="0.8"/>
<text x="211.70" y="62.78" font-size="6.6" text-anchor="end">0.52</text>
<line x1="214.40" y1="55.87" x2="216.00" y2="55.87" stroke="#666" stroke-width="0.8"/>
<line x1="360.59" y1="55.87" x2="358.99" y2="55.87" stroke="#666" stroke-width="0.8"/>
<line x1="214.40" y1="51.36" x2="216.00" y2="51.36" stroke="#666" stroke-width="0.8"/>
<line x1="360.59" y1="51.36" x2="358.99" y2="51.36" stroke="#666" stroke-width="0.8"/>
<line x1="214.40" y1="46.85" x2="216.00" y2="46.85" stroke="#666" stroke-width="0.8"/>
<line x1="360.59" y1="46.85" x2="358.99" y2="46.85" stroke="#666" stroke-width="0.8"/>
<line x1="214.40" y1="42.34" x2="217.00" y2="42.34" stroke="#666" stroke-width="0.8"/>
<line x1="360.59" y1="42.34" x2="357.99" y2="42.34" stroke="#666" stroke-width="0.8"/>
<text x="211.70" y="44.74" font-size="6.6" text-anchor="end">0.54</text>
<line x1="214.40" y1="37.83" x2="216.00" y2="37.83" stroke="#666" stroke-width="0.8"/>
<line x1="360.59" y1="37.83" x2="358.99" y2="37.83" stroke="#666" stroke-width="0.8"/>
<line x1="214.40" y1="33.32" x2="216.00" y2="33.32" stroke="#666" stroke-width="0.8"/>
<line x1="360.59" y1="33.32" x2="358.99" y2="33.32" stroke="#666" stroke-width="0.8"/>
<line x1="214.40" y1="28.81" x2="216.00" y2="28.81" stroke="#666" stroke-width="0.8"/>
<line x1="360.59" y1="28.81" x2="358.99" y2="28.81" stroke="#666" stroke-width="0.8"/>
<line x1="214.40" y1="24.30" x2="217.00" y2="24.30" stroke="#666" stroke-width="0.8"/>
<line x1="360.59" y1="24.30" x2="357.99" y2="24.30" stroke="#666" stroke-width="0.8"/>
<text x="211.70" y="26.70" font-size="6.6" text-anchor="end">0.56</text>
<rect x="385.9" y="61.7" width="57.4" height="135.4" fill="#deeeff" stroke="#111" stroke-width="1.6"/>
<path d="M394.2 75.00 H407.8" fill="none" stroke="#ff0000" stroke-width="1.8" stroke-linecap="round"/>
<text x="415" y="78.90" font-size="12.5" style="fill:#222">a=2</text>
<path d="M394.2 96.25 H407.8" fill="none" stroke="#0aaa0a" stroke-width="1.8" stroke-linecap="round" stroke-dasharray="8.0 8.5"/>
<text x="415" y="100.15" font-size="12.5" style="fill:#222">a=3</text>
<path d="M394.2 117.50 H407.8" fill="none" stroke="#0000ff" stroke-width="1.8" stroke-linecap="round" stroke-dasharray="3.3 6.3"/>
<text x="415" y="121.40" font-size="12.5" style="fill:#222">a=4</text>
<path d="M394.2 138.75 H407.8" fill="none" stroke="#000000" stroke-width="1.8" stroke-linecap="round" stroke-dasharray="1.4 3.9"/>
<text x="415" y="142.65" font-size="12.5" style="fill:#222">a=5</text>
<path d="M394.2 160.00 H407.8" fill="none" stroke="#ff8000" stroke-width="1.8" stroke-linecap="round" stroke-dasharray="0.6 2.28"/>
<text x="415" y="163.90" font-size="12.5" style="fill:#222">a=6</text>
<path d="M394.2 181.20 H407.8" fill="none" stroke="#664422" stroke-width="1.8" stroke-linecap="round" stroke-dasharray="0.01 3.2 2.6 3.2"/>
<text x="415" y="185.10" font-size="12.5" style="fill:#222">opt</text>
<clipPath id="cr"><rect x="455.30" y="19.60" width="326.10" height="201.60"/></clipPath>
<g clip-path="url(#cr)" fill="none" stroke-width="2.05" stroke-linecap="round" stroke-linejoin="round">
<path d="M455.30 38.98 L455.33 39.03 L455.38 39.13 L455.45 39.25 L455.53 39.40 L455.63 39.58 L455.73 39.77 L455.84 39.98 L455.96 40.22 L456.09 40.47 L456.23 40.74 L456.37 41.03 L456.52 41.34 L456.67 41.67 L456.83 42.01 L457.00 42.37 L457.17 42.75 L457.35 43.14 L457.53 43.55 L457.72 43.97 L457.92 44.41 L458.12 44.86 L458.32 45.32 L458.53 45.80 L458.74 46.28 L458.96 46.78 L459.18 47.29 L459.40 47.80 L459.63 48.33 L459.87 48.86 L460.11 49.40 L460.35 49.94 L460.60 50.49 L460.85 51.05 L461.10 51.61 L461.36 52.18 L461.62 52.76 L461.88 53.35 L462.15 53.94 L462.43 54.54 L462.70 55.15 L462.98 55.77 L463.26 56.39 L463.55 57.02 L463.84 57.67 L464.13 58.32 L464.43 58.97 L464.73 59.64 L465.03 60.32 L465.33 61.00 L465.64 61.70 L465.96 62.40 L466.27 63.11 L466.59 63.83 L466.91 64.56 L467.23 65.29 L467.56 66.03 L467.89 66.77 L468.22 67.52 L468.56 68.28 L468.90 69.04 L469.24 69.81 L469.58 70.58 L469.93 71.35 L470.28 72.13 L470.63 72.91 L470.99 73.70 L471.34 74.48 L471.70 75.27 L472.07 76.06 L472.43 76.86 L472.80 77.65 L473.17 78.45 L473.55 79.25 L473.92 80.06 L474.30 80.86 L474.68 81.66 L475.07 82.47 L475.45 83.28 L475.84 84.09 L476.23 84.89 L476.63 85.70 L477.02 86.51 L477.42 87.33 L477.82 88.14 L478.23 88.95 L478.63 89.76 L479.04 90.57 L479.45 91.39 L479.86 92.20 L480.28 93.01 L480.70 93.83 L481.12 94.64 L481.54 95.46 L481.96 96.27 L482.39 97.09 L482.82 97.90 L483.25 98.72 L483.68 99.54 L484.12 100.35 L484.55 101.17 L484.99 101.99 L485.44 102.81 L485.88 103.63 L486.33 104.45 L486.78 105.27 L487.23 106.09 L487.68 106.91 L488.13 107.73 L488.59 108.55 L489.05 109.37 L489.51 110.19 L489.98 111.01 L490.44 111.84 L490.91 112.66 L491.38 113.48 L491.85 114.30 L492.32 115.13 L492.80 115.95 L493.28 116.78 L493.76 117.60 L494.24 118.42 L494.72 119.25 L495.21 120.07 L495.70 120.90 L496.19 121.72 L496.68 122.55 L497.17 123.37 L497.67 124.19 L498.16 125.02 L498.66 125.84 L499.16 126.66 L499.67 127.49 L500.17 128.31 L500.68 129.13 L501.19 129.94 L501.70 130.76 L502.21 131.58 L502.73 132.39 L503.24 133.21 L503.76 134.02 L504.28 134.83 L504.80 135.64 L505.33 136.45 L505.85 137.25 L506.38 138.06 L506.91 138.86 L507.44 139.66 L507.97 140.45 L508.51 141.25 L509.04 142.04 L509.58 142.83 L510.12 143.62 L510.67 144.40 L511.21 145.18 L511.75 145.96 L512.30 146.73 L512.85 147.50 L513.40 148.27 L513.95 149.03 L514.51 149.79 L515.06 150.54 L515.62 151.29 L516.18 152.04 L516.74 152.78 L517.30 153.52 L517.87 154.25 L518.44 154.98 L519.00 155.70 L519.57 156.42 L520.14 157.13 L520.72 157.84 L521.29 158.55 L521.87 159.24 L522.45 159.94 L523.03 160.62 L523.61 161.30 L524.19 161.98 L524.78 162.65 L525.36 163.31 L525.95 163.97 L526.54 164.62 L527.13 165.26 L527.72 165.90 L528.32 166.53 L528.91 167.16 L529.51 167.78 L530.11 168.39 L530.71 168.99 L531.31 169.59 L531.92 170.18 L532.52 170.76 L533.13 171.33 L533.74 171.90 L534.35 172.46 L534.96 173.01 L535.58 173.56 L536.19 174.10 L536.81 174.63 L537.43 175.15 L538.05 175.66 L538.67 176.17 L539.29 176.67 L539.91 177.16 L540.54 177.64 L541.17 178.12 L541.80 178.59 L542.43 179.05 L543.06 179.50 L543.69 179.94 L544.33 180.38 L544.97 180.81 L545.60 181.23 L546.24 181.64 L546.88 182.05 L547.53 182.44 L548.17 182.83 L548.82 183.21 L549.46 183.58 L550.11 183.95 L550.76 184.31 L551.41 184.65 L552.07 184.99 L552.72 185.33 L553.38 185.65 L554.04 185.97 L554.69 186.28 L555.35 186.58 L556.02 186.87 L556.68 187.16 L557.35 187.44 L558.01 187.71 L558.68 187.97 L559.35 188.23 L560.02 188.48 L560.69 188.72 L561.36 188.95 L562.04 189.18 L562.72 189.40 L563.39 189.62 L564.07 189.82 L564.75 190.02 L565.43 190.22 L566.12 190.40 L566.80 190.59 L567.49 190.76 L568.18 190.93 L568.87 191.09 L569.56 191.24 L570.25 191.39 L570.94 191.53 L571.64 191.67 L572.33 191.80 L573.03 191.92 L573.73 192.04 L574.43 192.15 L575.13 192.25 L575.83 192.35 L576.54 192.44 L577.24 192.53 L577.95 192.61 L578.66 192.69 L579.37 192.76 L580.08 192.82 L580.79 192.88 L581.50 192.93 L582.22 192.98 L582.93 193.02 L583.65 193.05 L584.37 193.08 L585.09 193.10 L585.81 193.12 L586.54 193.13 L587.26 193.14 L587.99 193.14 L588.71 193.14 L589.44 193.13 L590.17 193.12 L590.90 193.10 L591.63 193.07 L592.37 193.04 L593.10 193.00 L593.84 192.96 L594.58 192.92 L595.32 192.86 L596.06 192.81 L596.80 192.75 L597.54 192.68 L598.28 192.61 L599.03 192.53 L599.78 192.45 L600.52 192.36 L601.27 192.27 L602.02 192.18 L602.78 192.07 L603.53 191.97 L604.28 191.86 L605.04 191.74 L605.80 191.62 L606.55 191.50 L607.31 191.37 L608.07 191.23 L608.84 191.10 L609.60 190.95 L610.36 190.81 L611.13 190.65 L611.90 190.50 L612.66 190.34 L613.43 190.17 L614.21 190.00 L614.98 189.83 L615.75 189.65 L616.52 189.47 L617.30 189.28 L618.08 189.09 L618.86 188.90 L619.64 188.70 L620.42 188.49 L621.20 188.29 L621.98 188.07 L622.77 187.86 L623.55 187.64 L624.34 187.42 L625.13 187.19 L625.92 186.96 L626.71 186.72 L627.50 186.49 L628.29 186.24 L629.08 186.00 L629.88 185.75 L630.68 185.50 L631.47 185.24 L632.27 184.98 L633.07 184.72 L633.87 184.45 L634.68 184.18 L635.48 183.91 L636.29 183.63 L637.09 183.35 L637.90 183.07 L638.71 182.79 L639.52 182.50 L640.33 182.21 L641.14 181.92 L641.95 181.62 L642.77 181.32 L643.58 181.02 L644.40 180.71 L645.22 180.41 L646.04 180.10 L646.86 179.78 L647.68 179.47 L648.50 179.15 L649.33 178.83 L650.15 178.51 L650.98 178.18 L651.81 177.86 L652.63 177.53 L653.46 177.20 L654.29 176.86 L655.13 176.53 L655.96 176.19 L656.79 175.85 L657.63 175.51 L658.47 175.17 L659.30 174.82 L660.14 174.47 L660.98 174.12 L661.82 173.77 L662.67 173.42 L663.51 173.07 L664.36 172.71 L665.20 172.36 L666.05 172.00 L666.90 171.64 L667.75 171.28 L668.60 170.92 L669.45 170.56 L670.30 170.20 L671.15 169.84 L672.01 169.47 L672.86 169.11 L673.72 168.74 L674.58 168.38 L675.44 168.01 L676.30 167.64 L677.16 167.28 L678.02 166.91 L678.89 166.54 L679.75 166.17 L680.62 165.80 L681.49 165.44 L682.35 165.07 L683.22 164.70 L684.09 164.33 L684.97 163.96 L685.84 163.60 L686.71 163.23 L687.59 162.86 L688.46 162.49 L689.34 162.13 L690.22 161.76 L691.10 161.39 L691.98 161.03 L692.86 160.66 L693.74 160.30 L694.63 159.93 L695.51 159.57 L696.40 159.21 L697.28 158.85 L698.17 158.49 L699.06 158.12 L699.95 157.76 L700.84 157.40 L701.73 157.04 L702.63 156.69 L703.52 156.33 L704.42 155.97 L705.31 155.61 L706.21 155.25 L707.11 154.90 L708.01 154.54 L708.91 154.19 L709.81 153.83 L710.72 153.48 L711.62 153.12 L712.53 152.77 L713.43 152.42 L714.34 152.06 L715.25 151.71 L716.16 151.36 L717.07 151.01 L717.98 150.66 L718.89 150.31 L719.81 149.95 L720.72 149.60 L721.64 149.25 L722.55 148.91 L723.47 148.56 L724.39 148.21 L725.31 147.86 L726.23 147.51 L727.15 147.16 L728.08 146.82 L729.00 146.47 L729.92 146.12 L730.85 145.78 L731.78 145.43 L732.71 145.09 L733.64 144.74 L734.57 144.40 L735.50 144.05 L736.43 143.71 L737.36 143.36 L738.30 143.02 L739.23 142.68 L740.17 142.34 L741.11 141.99 L742.05 141.65 L742.99 141.31 L743.93 140.97 L744.87 140.63 L745.81 140.29 L746.75 139.95 L747.70 139.61 L748.65 139.27 L749.59 138.93 L750.54 138.60 L751.49 138.26 L752.44 137.92 L753.39 137.59 L754.34 137.25 L755.29 136.92 L756.25 136.59 L757.20 136.25 L758.16 135.92 L759.12 135.59 L760.07 135.26 L761.03 134.93 L761.99 134.61 L762.95 134.28 L763.92 133.95 L764.88 133.63 L765.84 133.31 L766.81 132.98 L767.77 132.66 L768.74 132.34 L769.71 132.02 L770.68 131.70 L771.65 131.38 L772.62 131.07 L773.59 130.75 L774.56 130.44 L775.54 130.12 L776.51 129.81 L777.49 129.50 L778.46 129.19 L779.44 128.88 L780.42 128.57 L781.40 128.27" stroke="#ff0000"/>
<path d="M455.30 35.46 L455.33 35.46 L455.38 35.45 L455.45 35.44 L455.53 35.43 L455.63 35.43 L455.73 35.44 L455.84 35.47 L455.96 35.50 L456.09 35.56 L456.23 35.62 L456.37 35.71 L456.52 35.82 L456.67 35.94 L456.83 36.09 L457.00 36.25 L457.17 36.44 L457.35 36.65 L457.53 36.89 L457.72 37.14 L457.92 37.41 L458.12 37.71 L458.32 38.02 L458.53 38.35 L458.74 38.70 L458.96 39.07 L459.18 39.45 L459.40 39.84 L459.63 40.25 L459.87 40.67 L460.11 41.09 L460.35 41.53 L460.60 41.98 L460.85 42.43 L461.10 42.90 L461.36 43.38 L461.62 43.87 L461.88 44.37 L462.15 44.88 L462.43 45.41 L462.70 45.94 L462.98 46.49 L463.26 47.05 L463.55 47.62 L463.84 48.20 L464.13 48.80 L464.43 49.40 L464.73 50.02 L465.03 50.66 L465.33 51.30 L465.64 51.96 L465.96 52.63 L466.27 53.31 L466.59 54.00 L466.91 54.70 L467.23 55.41 L467.56 56.13 L467.89 56.86 L468.22 57.60 L468.56 58.35 L468.90 59.11 L469.24 59.87 L469.58 60.64 L469.93 61.42 L470.28 62.21 L470.63 63.00 L470.99 63.79 L471.34 64.60 L471.70 65.40 L472.07 66.22 L472.43 67.03 L472.80 67.85 L473.17 68.68 L473.55 69.50 L473.92 70.33 L474.30 71.17 L474.68 72.00 L475.07 72.84 L475.45 73.68 L475.84 74.52 L476.23 75.36 L476.63 76.20 L477.02 77.05 L477.42 77.89 L477.82 78.74 L478.23 79.58 L478.63 80.42 L479.04 81.26 L479.45 82.11 L479.86 82.95 L480.28 83.79 L480.70 84.63 L481.12 85.47 L481.54 86.30 L481.96 87.14 L482.39 87.97 L482.82 88.81 L483.25 89.64 L483.68 90.47 L484.12 91.30 L484.55 92.12 L484.99 92.95 L485.44 93.77 L485.88 94.59 L486.33 95.41 L486.78 96.22 L487.23 97.04 L487.68 97.85 L488.13 98.66 L488.59 99.46 L489.05 100.27 L489.51 101.07 L489.98 101.87 L490.44 102.67 L490.91 103.46 L491.38 104.25 L491.85 105.04 L492.32 105.83 L492.80 106.62 L493.28 107.40 L493.76 108.18 L494.24 108.96 L494.72 109.73 L495.21 110.50 L495.70 111.27 L496.19 112.04 L496.68 112.81 L497.17 113.57 L497.67 114.33 L498.16 115.09 L498.66 115.84 L499.16 116.60 L499.67 117.35 L500.17 118.09 L500.68 118.84 L501.19 119.58 L501.70 120.32 L502.21 121.05 L502.73 121.79 L503.24 122.52 L503.76 123.25 L504.28 123.97 L504.80 124.69 L505.33 125.41 L505.85 126.13 L506.38 126.84 L506.91 127.55 L507.44 128.26 L507.97 128.97 L508.51 129.67 L509.04 130.37 L509.58 131.06 L510.12 131.76 L510.67 132.45 L511.21 133.13 L511.75 133.81 L512.30 134.49 L512.85 135.17 L513.40 135.84 L513.95 136.51 L514.51 137.18 L515.06 137.84 L515.62 138.50 L516.18 139.15 L516.74 139.80 L517.30 140.45 L517.87 141.10 L518.44 141.74 L519.00 142.37 L519.57 143.00 L520.14 143.63 L520.72 144.26 L521.29 144.88 L521.87 145.50 L522.45 146.11 L523.03 146.72 L523.61 147.32 L524.19 147.92 L524.78 148.52 L525.36 149.11 L525.95 149.70 L526.54 150.28 L527.13 150.86 L527.72 151.44 L528.32 152.01 L528.91 152.57 L529.51 153.13 L530.11 153.69 L530.71 154.24 L531.31 154.79 L531.92 155.33 L532.52 155.87 L533.13 156.40 L533.74 156.93 L534.35 157.46 L534.96 157.98 L535.58 158.49 L536.19 159.00 L536.81 159.51 L537.43 160.01 L538.05 160.50 L538.67 161.00 L539.29 161.48 L539.91 161.96 L540.54 162.44 L541.17 162.91 L541.80 163.38 L542.43 163.84 L543.06 164.29 L543.69 164.74 L544.33 165.19 L544.97 165.63 L545.60 166.07 L546.24 166.50 L546.88 166.93 L547.53 167.35 L548.17 167.76 L548.82 168.17 L549.46 168.58 L550.11 168.98 L550.76 169.37 L551.41 169.76 L552.07 170.15 L552.72 170.53 L553.38 170.90 L554.04 171.27 L554.69 171.64 L555.35 172.00 L556.02 172.35 L556.68 172.70 L557.35 173.04 L558.01 173.38 L558.68 173.71 L559.35 174.04 L560.02 174.36 L560.69 174.67 L561.36 174.98 L562.04 175.29 L562.72 175.58 L563.39 175.88 L564.07 176.16 L564.75 176.45 L565.43 176.72 L566.12 176.99 L566.80 177.26 L567.49 177.52 L568.18 177.77 L568.87 178.02 L569.56 178.26 L570.25 178.49 L570.94 178.73 L571.64 178.95 L572.33 179.17 L573.03 179.38 L573.73 179.59 L574.43 179.79 L575.13 179.99 L575.83 180.18 L576.54 180.36 L577.24 180.54 L577.95 180.71 L578.66 180.88 L579.37 181.04 L580.08 181.19 L580.79 181.34 L581.50 181.48 L582.22 181.62 L582.93 181.75 L583.65 181.88 L584.37 182.00 L585.09 182.11 L585.81 182.22 L586.54 182.33 L587.26 182.42 L587.99 182.51 L588.71 182.60 L589.44 182.68 L590.17 182.75 L590.90 182.82 L591.63 182.88 L592.37 182.94 L593.10 182.99 L593.84 183.04 L594.58 183.08 L595.32 183.11 L596.06 183.14 L596.80 183.16 L597.54 183.18 L598.28 183.19 L599.03 183.19 L599.78 183.19 L600.52 183.19 L601.27 183.18 L602.02 183.16 L602.78 183.14 L603.53 183.11 L604.28 183.08 L605.04 183.04 L605.80 183.00 L606.55 182.95 L607.31 182.90 L608.07 182.84 L608.84 182.78 L609.60 182.71 L610.36 182.64 L611.13 182.56 L611.90 182.48 L612.66 182.39 L613.43 182.30 L614.21 182.20 L614.98 182.10 L615.75 182.00 L616.52 181.89 L617.30 181.77 L618.08 181.65 L618.86 181.53 L619.64 181.40 L620.42 181.26 L621.20 181.12 L621.98 180.98 L622.77 180.84 L623.55 180.68 L624.34 180.53 L625.13 180.37 L625.92 180.20 L626.71 180.04 L627.50 179.86 L628.29 179.69 L629.08 179.51 L629.88 179.32 L630.68 179.13 L631.47 178.94 L632.27 178.75 L633.07 178.55 L633.87 178.34 L634.68 178.14 L635.48 177.92 L636.29 177.71 L637.09 177.49 L637.90 177.27 L638.71 177.04 L639.52 176.82 L640.33 176.58 L641.14 176.35 L641.95 176.11 L642.77 175.87 L643.58 175.62 L644.40 175.37 L645.22 175.12 L646.04 174.86 L646.86 174.60 L647.68 174.34 L648.50 174.08 L649.33 173.81 L650.15 173.54 L650.98 173.27 L651.81 172.99 L652.63 172.71 L653.46 172.43 L654.29 172.14 L655.13 171.85 L655.96 171.56 L656.79 171.27 L657.63 170.97 L658.47 170.67 L659.30 170.37 L660.14 170.07 L660.98 169.76 L661.82 169.45 L662.67 169.14 L663.51 168.83 L664.36 168.51 L665.20 168.19 L666.05 167.87 L666.90 167.55 L667.75 167.23 L668.60 166.90 L669.45 166.58 L670.30 166.25 L671.15 165.92 L672.01 165.58 L672.86 165.25 L673.72 164.91 L674.58 164.58 L675.44 164.24 L676.30 163.90 L677.16 163.56 L678.02 163.21 L678.89 162.87 L679.75 162.52 L680.62 162.18 L681.49 161.83 L682.35 161.48 L683.22 161.13 L684.09 160.78 L684.97 160.43 L685.84 160.07 L686.71 159.72 L687.59 159.37 L688.46 159.01 L689.34 158.65 L690.22 158.30 L691.10 157.94 L691.98 157.58 L692.86 157.22 L693.74 156.86 L694.63 156.50 L695.51 156.14 L696.40 155.78 L697.28 155.42 L698.17 155.06 L699.06 154.69 L699.95 154.33 L700.84 153.97 L701.73 153.60 L702.63 153.24 L703.52 152.87 L704.42 152.51 L705.31 152.14 L706.21 151.77 L707.11 151.41 L708.01 151.04 L708.91 150.67 L709.81 150.30 L710.72 149.94 L711.62 149.57 L712.53 149.20 L713.43 148.83 L714.34 148.46 L715.25 148.09 L716.16 147.72 L717.07 147.35 L717.98 146.98 L718.89 146.61 L719.81 146.24 L720.72 145.86 L721.64 145.49 L722.55 145.12 L723.47 144.75 L724.39 144.38 L725.31 144.00 L726.23 143.63 L727.15 143.26 L728.08 142.88 L729.00 142.51 L729.92 142.14 L730.85 141.76 L731.78 141.39 L732.71 141.02 L733.64 140.64 L734.57 140.27 L735.50 139.89 L736.43 139.52 L737.36 139.14 L738.30 138.77 L739.23 138.39 L740.17 138.02 L741.11 137.65 L742.05 137.27 L742.99 136.90 L743.93 136.53 L744.87 136.16 L745.81 135.78 L746.75 135.41 L747.70 135.05 L748.65 134.68 L749.59 134.31 L750.54 133.95 L751.49 133.58 L752.44 133.22 L753.39 132.86 L754.34 132.50 L755.29 132.14 L756.25 131.79 L757.20 131.43 L758.16 131.08 L759.12 130.73 L760.07 130.38 L761.03 130.04 L761.99 129.70 L762.95 129.36 L763.92 129.02 L764.88 128.68 L765.84 128.35 L766.81 128.02 L767.77 127.69 L768.74 127.37 L769.71 127.05 L770.68 126.73 L771.65 126.42 L772.62 126.11 L773.59 125.80 L774.56 125.49 L775.54 125.19 L776.51 124.89 L777.49 124.60 L778.46 124.31 L779.44 124.02 L780.42 123.74 L781.40 123.46" stroke="#0aaa0a" stroke-dasharray="8.0 8.5"/>
<path d="M455.30 32.49 L455.33 32.46 L455.38 32.41 L455.45 32.35 L455.53 32.28 L455.63 32.22 L455.73 32.16 L455.84 32.10 L455.96 32.05 L456.09 32.02 L456.23 32.00 L456.37 32.00 L456.52 32.01 L456.67 32.05 L456.83 32.10 L457.00 32.17 L457.17 32.27 L457.35 32.39 L457.53 32.53 L457.72 32.69 L457.92 32.87 L458.12 33.07 L458.32 33.30 L458.53 33.54 L458.74 33.80 L458.96 34.08 L459.18 34.37 L459.40 34.68 L459.63 35.00 L459.87 35.33 L460.11 35.67 L460.35 36.02 L460.60 36.38 L460.85 36.76 L461.10 37.14 L461.36 37.54 L461.62 37.94 L461.88 38.36 L462.15 38.79 L462.43 39.23 L462.70 39.69 L462.98 40.15 L463.26 40.63 L463.55 41.12 L463.84 41.63 L464.13 42.14 L464.43 42.67 L464.73 43.21 L465.03 43.77 L465.33 44.33 L465.64 44.91 L465.96 45.50 L466.27 46.11 L466.59 46.72 L466.91 47.35 L467.23 47.98 L467.56 48.63 L467.89 49.29 L468.22 49.96 L468.56 50.63 L468.90 51.32 L469.24 52.01 L469.58 52.72 L469.93 53.43 L470.28 54.15 L470.63 54.88 L470.99 55.61 L471.34 56.35 L471.70 57.10 L472.07 57.86 L472.43 58.62 L472.80 59.38 L473.17 60.15 L473.55 60.93 L473.92 61.71 L474.30 62.49 L474.68 63.28 L475.07 64.07 L475.45 64.87 L475.84 65.66 L476.23 66.46 L476.63 67.26 L477.02 68.06 L477.42 68.87 L477.82 69.67 L478.23 70.48 L478.63 71.29 L479.04 72.09 L479.45 72.90 L479.86 73.71 L480.28 74.52 L480.70 75.33 L481.12 76.14 L481.54 76.94 L481.96 77.75 L482.39 78.56 L482.82 79.36 L483.25 80.17 L483.68 80.97 L484.12 81.78 L484.55 82.58 L484.99 83.38 L485.44 84.18 L485.88 84.97 L486.33 85.77 L486.78 86.56 L487.23 87.36 L487.68 88.15 L488.13 88.93 L488.59 89.72 L489.05 90.51 L489.51 91.29 L489.98 92.07 L490.44 92.86 L490.91 93.64 L491.38 94.41 L491.85 95.19 L492.32 95.96 L492.80 96.74 L493.28 97.51 L493.76 98.28 L494.24 99.05 L494.72 99.82 L495.21 100.58 L495.70 101.35 L496.19 102.11 L496.68 102.87 L497.17 103.63 L497.67 104.39 L498.16 105.15 L498.66 105.90 L499.16 106.66 L499.67 107.41 L500.17 108.16 L500.68 108.91 L501.19 109.66 L501.70 110.40 L502.21 111.15 L502.73 111.89 L503.24 112.63 L503.76 113.37 L504.28 114.11 L504.80 114.85 L505.33 115.59 L505.85 116.32 L506.38 117.06 L506.91 117.79 L507.44 118.52 L507.97 119.25 L508.51 119.97 L509.04 120.70 L509.58 121.42 L510.12 122.14 L510.67 122.86 L511.21 123.58 L511.75 124.29 L512.30 125.01 L512.85 125.72 L513.40 126.42 L513.95 127.13 L514.51 127.83 L515.06 128.53 L515.62 129.23 L516.18 129.92 L516.74 130.61 L517.30 131.30 L517.87 131.99 L518.44 132.67 L519.00 133.35 L519.57 134.03 L520.14 134.70 L520.72 135.37 L521.29 136.04 L521.87 136.70 L522.45 137.36 L523.03 138.02 L523.61 138.67 L524.19 139.32 L524.78 139.96 L525.36 140.60 L525.95 141.24 L526.54 141.87 L527.13 142.50 L527.72 143.12 L528.32 143.74 L528.91 144.35 L529.51 144.96 L530.11 145.56 L530.71 146.16 L531.31 146.76 L531.92 147.35 L532.52 147.93 L533.13 148.52 L533.74 149.09 L534.35 149.66 L534.96 150.22 L535.58 150.78 L536.19 151.34 L536.81 151.89 L537.43 152.43 L538.05 152.97 L538.67 153.50 L539.29 154.03 L539.91 154.55 L540.54 155.07 L541.17 155.58 L541.80 156.08 L542.43 156.58 L543.06 157.07 L543.69 157.56 L544.33 158.04 L544.97 158.52 L545.60 158.99 L546.24 159.45 L546.88 159.91 L547.53 160.36 L548.17 160.81 L548.82 161.25 L549.46 161.68 L550.11 162.11 L550.76 162.53 L551.41 162.95 L552.07 163.36 L552.72 163.76 L553.38 164.16 L554.04 164.55 L554.69 164.93 L555.35 165.31 L556.02 165.69 L556.68 166.05 L557.35 166.42 L558.01 166.77 L558.68 167.12 L559.35 167.46 L560.02 167.80 L560.69 168.13 L561.36 168.46 L562.04 168.78 L562.72 169.10 L563.39 169.40 L564.07 169.71 L564.75 170.00 L565.43 170.30 L566.12 170.58 L566.80 170.86 L567.49 171.14 L568.18 171.40 L568.87 171.67 L569.56 171.92 L570.25 172.18 L570.94 172.42 L571.64 172.66 L572.33 172.90 L573.03 173.13 L573.73 173.35 L574.43 173.57 L575.13 173.79 L575.83 173.99 L576.54 174.20 L577.24 174.39 L577.95 174.59 L578.66 174.77 L579.37 174.95 L580.08 175.13 L580.79 175.30 L581.50 175.47 L582.22 175.63 L582.93 175.78 L583.65 175.93 L584.37 176.08 L585.09 176.22 L585.81 176.35 L586.54 176.48 L587.26 176.60 L587.99 176.72 L588.71 176.84 L589.44 176.95 L590.17 177.05 L590.90 177.15 L591.63 177.25 L592.37 177.34 L593.10 177.42 L593.84 177.50 L594.58 177.58 L595.32 177.65 L596.06 177.71 L596.80 177.77 L597.54 177.83 L598.28 177.88 L599.03 177.92 L599.78 177.97 L600.52 178.00 L601.27 178.03 L602.02 178.06 L602.78 178.08 L603.53 178.10 L604.28 178.11 L605.04 178.12 L605.80 178.12 L606.55 178.12 L607.31 178.11 L608.07 178.10 L608.84 178.08 L609.60 178.06 L610.36 178.04 L611.13 178.00 L611.90 177.97 L612.66 177.93 L613.43 177.88 L614.21 177.83 L614.98 177.77 L615.75 177.71 L616.52 177.65 L617.30 177.58 L618.08 177.50 L618.86 177.42 L619.64 177.34 L620.42 177.25 L621.20 177.16 L621.98 177.06 L622.77 176.95 L623.55 176.85 L624.34 176.73 L625.13 176.62 L625.92 176.49 L626.71 176.37 L627.50 176.23 L628.29 176.10 L629.08 175.96 L629.88 175.81 L630.68 175.66 L631.47 175.51 L632.27 175.35 L633.07 175.18 L633.87 175.02 L634.68 174.84 L635.48 174.67 L636.29 174.49 L637.09 174.30 L637.90 174.11 L638.71 173.92 L639.52 173.72 L640.33 173.52 L641.14 173.31 L641.95 173.10 L642.77 172.88 L643.58 172.66 L644.40 172.44 L645.22 172.21 L646.04 171.98 L646.86 171.75 L647.68 171.51 L648.50 171.26 L649.33 171.02 L650.15 170.77 L650.98 170.51 L651.81 170.25 L652.63 169.99 L653.46 169.72 L654.29 169.45 L655.13 169.18 L655.96 168.90 L656.79 168.62 L657.63 168.33 L658.47 168.04 L659.30 167.75 L660.14 167.46 L660.98 167.16 L661.82 166.86 L662.67 166.55 L663.51 166.24 L664.36 165.93 L665.20 165.62 L666.05 165.30 L666.90 164.99 L667.75 164.66 L668.60 164.34 L669.45 164.02 L670.30 163.69 L671.15 163.36 L672.01 163.03 L672.86 162.69 L673.72 162.36 L674.58 162.02 L675.44 161.68 L676.30 161.34 L677.16 160.99 L678.02 160.65 L678.89 160.30 L679.75 159.95 L680.62 159.61 L681.49 159.26 L682.35 158.90 L683.22 158.55 L684.09 158.20 L684.97 157.84 L685.84 157.49 L686.71 157.13 L687.59 156.77 L688.46 156.42 L689.34 156.06 L690.22 155.70 L691.10 155.34 L691.98 154.98 L692.86 154.62 L693.74 154.26 L694.63 153.90 L695.51 153.53 L696.40 153.17 L697.28 152.81 L698.17 152.45 L699.06 152.08 L699.95 151.72 L700.84 151.36 L701.73 150.99 L702.63 150.63 L703.52 150.26 L704.42 149.90 L705.31 149.53 L706.21 149.17 L707.11 148.80 L708.01 148.43 L708.91 148.07 L709.81 147.70 L710.72 147.34 L711.62 146.97 L712.53 146.60 L713.43 146.24 L714.34 145.87 L715.25 145.50 L716.16 145.13 L717.07 144.77 L717.98 144.40 L718.89 144.03 L719.81 143.66 L720.72 143.30 L721.64 142.93 L722.55 142.56 L723.47 142.19 L724.39 141.82 L725.31 141.46 L726.23 141.09 L727.15 140.72 L728.08 140.35 L729.00 139.98 L729.92 139.62 L730.85 139.25 L731.78 138.88 L732.71 138.51 L733.64 138.14 L734.57 137.78 L735.50 137.41 L736.43 137.04 L737.36 136.67 L738.30 136.31 L739.23 135.94 L740.17 135.57 L741.11 135.20 L742.05 134.84 L742.99 134.47 L743.93 134.11 L744.87 133.74 L745.81 133.38 L746.75 133.02 L747.70 132.66 L748.65 132.30 L749.59 131.94 L750.54 131.58 L751.49 131.23 L752.44 130.87 L753.39 130.52 L754.34 130.17 L755.29 129.82 L756.25 129.47 L757.20 129.12 L758.16 128.78 L759.12 128.44 L760.07 128.10 L761.03 127.76 L761.99 127.43 L762.95 127.09 L763.92 126.76 L764.88 126.43 L765.84 126.11 L766.81 125.78 L767.77 125.46 L768.74 125.15 L769.71 124.83 L770.68 124.52 L771.65 124.21 L772.62 123.90 L773.59 123.60 L774.56 123.30 L775.54 123.00 L776.51 122.71 L777.49 122.42 L778.46 122.13 L779.44 121.85 L780.42 121.56 L781.40 121.29" stroke="#0000ff" stroke-dasharray="3.3 6.3"/>
<path d="M455.30 31.19 L455.33 31.18 L455.38 31.18 L455.45 31.17 L455.53 31.16 L455.63 31.17 L455.73 31.17 L455.84 31.19 L455.96 31.22 L456.09 31.25 L456.23 31.30 L456.37 31.36 L456.52 31.44 L456.67 31.53 L456.83 31.64 L457.00 31.76 L457.17 31.89 L457.35 32.05 L457.53 32.21 L457.72 32.40 L457.92 32.60 L458.12 32.81 L458.32 33.04 L458.53 33.28 L458.74 33.53 L458.96 33.80 L459.18 34.08 L459.40 34.36 L459.63 34.66 L459.87 34.97 L460.11 35.28 L460.35 35.60 L460.60 35.93 L460.85 36.26 L461.10 36.61 L461.36 36.96 L461.62 37.32 L461.88 37.69 L462.15 38.07 L462.43 38.46 L462.70 38.86 L462.98 39.27 L463.26 39.69 L463.55 40.11 L463.84 40.55 L464.13 41.00 L464.43 41.46 L464.73 41.93 L465.03 42.41 L465.33 42.90 L465.64 43.41 L465.96 43.92 L466.27 44.44 L466.59 44.98 L466.91 45.52 L467.23 46.07 L467.56 46.64 L467.89 47.21 L468.22 47.79 L468.56 48.38 L468.90 48.98 L469.24 49.59 L469.58 50.21 L469.93 50.83 L470.28 51.47 L470.63 52.11 L470.99 52.76 L471.34 53.41 L471.70 54.08 L472.07 54.75 L472.43 55.43 L472.80 56.11 L473.17 56.80 L473.55 57.50 L473.92 58.20 L474.30 58.91 L474.68 59.63 L475.07 60.35 L475.45 61.07 L475.84 61.80 L476.23 62.54 L476.63 63.27 L477.02 64.02 L477.42 64.77 L477.82 65.52 L478.23 66.27 L478.63 67.03 L479.04 67.79 L479.45 68.56 L479.86 69.32 L480.28 70.09 L480.70 70.87 L481.12 71.64 L481.54 72.42 L481.96 73.20 L482.39 73.98 L482.82 74.77 L483.25 75.55 L483.68 76.34 L484.12 77.13 L484.55 77.92 L484.99 78.71 L485.44 79.50 L485.88 80.29 L486.33 81.09 L486.78 81.88 L487.23 82.68 L487.68 83.47 L488.13 84.27 L488.59 85.06 L489.05 85.86 L489.51 86.66 L489.98 87.45 L490.44 88.25 L490.91 89.05 L491.38 89.84 L491.85 90.64 L492.32 91.43 L492.80 92.23 L493.28 93.03 L493.76 93.82 L494.24 94.61 L494.72 95.41 L495.21 96.20 L495.70 96.99 L496.19 97.78 L496.68 98.57 L497.17 99.36 L497.67 100.15 L498.16 100.93 L498.66 101.72 L499.16 102.50 L499.67 103.29 L500.17 104.07 L500.68 104.85 L501.19 105.63 L501.70 106.40 L502.21 107.18 L502.73 107.95 L503.24 108.73 L503.76 109.50 L504.28 110.26 L504.80 111.03 L505.33 111.80 L505.85 112.56 L506.38 113.32 L506.91 114.08 L507.44 114.83 L507.97 115.59 L508.51 116.34 L509.04 117.09 L509.58 117.84 L510.12 118.58 L510.67 119.32 L511.21 120.06 L511.75 120.80 L512.30 121.53 L512.85 122.26 L513.40 122.99 L513.95 123.71 L514.51 124.44 L515.06 125.15 L515.62 125.87 L516.18 126.58 L516.74 127.29 L517.30 127.99 L517.87 128.69 L518.44 129.39 L519.00 130.08 L519.57 130.77 L520.14 131.46 L520.72 132.14 L521.29 132.82 L521.87 133.50 L522.45 134.17 L523.03 134.83 L523.61 135.50 L524.19 136.15 L524.78 136.81 L525.36 137.46 L525.95 138.10 L526.54 138.74 L527.13 139.38 L527.72 140.01 L528.32 140.63 L528.91 141.26 L529.51 141.87 L530.11 142.48 L530.71 143.09 L531.31 143.69 L531.92 144.29 L532.52 144.88 L533.13 145.47 L533.74 146.05 L534.35 146.63 L534.96 147.20 L535.58 147.76 L536.19 148.32 L536.81 148.88 L537.43 149.43 L538.05 149.97 L538.67 150.51 L539.29 151.05 L539.91 151.57 L540.54 152.10 L541.17 152.61 L541.80 153.12 L542.43 153.63 L543.06 154.13 L543.69 154.62 L544.33 155.11 L544.97 155.60 L545.60 156.07 L546.24 156.54 L546.88 157.01 L547.53 157.47 L548.17 157.92 L548.82 158.37 L549.46 158.81 L550.11 159.25 L550.76 159.68 L551.41 160.11 L552.07 160.53 L552.72 160.94 L553.38 161.35 L554.04 161.75 L554.69 162.14 L555.35 162.53 L556.02 162.92 L556.68 163.30 L557.35 163.67 L558.01 164.04 L558.68 164.40 L559.35 164.75 L560.02 165.10 L560.69 165.45 L561.36 165.78 L562.04 166.12 L562.72 166.44 L563.39 166.77 L564.07 167.08 L564.75 167.39 L565.43 167.70 L566.12 168.00 L566.80 168.29 L567.49 168.58 L568.18 168.86 L568.87 169.14 L569.56 169.41 L570.25 169.68 L570.94 169.94 L571.64 170.20 L572.33 170.45 L573.03 170.69 L573.73 170.93 L574.43 171.17 L575.13 171.40 L575.83 171.62 L576.54 171.84 L577.24 172.05 L577.95 172.26 L578.66 172.47 L579.37 172.67 L580.08 172.86 L580.79 173.05 L581.50 173.23 L582.22 173.41 L582.93 173.59 L583.65 173.76 L584.37 173.92 L585.09 174.08 L585.81 174.23 L586.54 174.38 L587.26 174.53 L587.99 174.67 L588.71 174.81 L589.44 174.94 L590.17 175.07 L590.90 175.19 L591.63 175.31 L592.37 175.42 L593.10 175.53 L593.84 175.63 L594.58 175.73 L595.32 175.83 L596.06 175.92 L596.80 176.01 L597.54 176.09 L598.28 176.17 L599.03 176.24 L599.78 176.31 L600.52 176.38 L601.27 176.44 L602.02 176.49 L602.78 176.54 L603.53 176.59 L604.28 176.63 L605.04 176.67 L605.80 176.71 L606.55 176.74 L607.31 176.76 L608.07 176.78 L608.84 176.80 L609.60 176.81 L610.36 176.82 L611.13 176.82 L611.90 176.82 L612.66 176.82 L613.43 176.81 L614.21 176.79 L614.98 176.77 L615.75 176.75 L616.52 176.72 L617.30 176.69 L618.08 176.66 L618.86 176.62 L619.64 176.57 L620.42 176.52 L621.20 176.47 L621.98 176.41 L622.77 176.35 L623.55 176.28 L624.34 176.21 L625.13 176.13 L625.92 176.06 L626.71 175.97 L627.50 175.88 L628.29 175.79 L629.08 175.69 L629.88 175.59 L630.68 175.49 L631.47 175.38 L632.27 175.26 L633.07 175.14 L633.87 175.02 L634.68 174.89 L635.48 174.76 L636.29 174.63 L637.09 174.49 L637.90 174.34 L638.71 174.19 L639.52 174.04 L640.33 173.88 L641.14 173.72 L641.95 173.55 L642.77 173.38 L643.58 173.21 L644.40 173.03 L645.22 172.85 L646.04 172.66 L646.86 172.47 L647.68 172.27 L648.50 172.07 L649.33 171.87 L650.15 171.66 L650.98 171.45 L651.81 171.23 L652.63 171.01 L653.46 170.78 L654.29 170.55 L655.13 170.32 L655.96 170.08 L656.79 169.84 L657.63 169.59 L658.47 169.34 L659.30 169.08 L660.14 168.83 L660.98 168.56 L661.82 168.30 L662.67 168.03 L663.51 167.76 L664.36 167.48 L665.20 167.20 L666.05 166.92 L666.90 166.63 L667.75 166.34 L668.60 166.05 L669.45 165.76 L670.30 165.46 L671.15 165.16 L672.01 164.85 L672.86 164.55 L673.72 164.24 L674.58 163.92 L675.44 163.61 L676.30 163.29 L677.16 162.97 L678.02 162.65 L678.89 162.33 L679.75 162.00 L680.62 161.67 L681.49 161.34 L682.35 161.01 L683.22 160.68 L684.09 160.34 L684.97 160.00 L685.84 159.66 L686.71 159.32 L687.59 158.97 L688.46 158.63 L689.34 158.28 L690.22 157.93 L691.10 157.58 L691.98 157.23 L692.86 156.88 L693.74 156.52 L694.63 156.17 L695.51 155.81 L696.40 155.45 L697.28 155.09 L698.17 154.73 L699.06 154.37 L699.95 154.01 L700.84 153.64 L701.73 153.28 L702.63 152.91 L703.52 152.54 L704.42 152.18 L705.31 151.81 L706.21 151.44 L707.11 151.07 L708.01 150.69 L708.91 150.32 L709.81 149.95 L710.72 149.57 L711.62 149.20 L712.53 148.82 L713.43 148.45 L714.34 148.07 L715.25 147.69 L716.16 147.31 L717.07 146.93 L717.98 146.55 L718.89 146.17 L719.81 145.79 L720.72 145.41 L721.64 145.03 L722.55 144.65 L723.47 144.27 L724.39 143.88 L725.31 143.50 L726.23 143.12 L727.15 142.73 L728.08 142.35 L729.00 141.96 L729.92 141.58 L730.85 141.19 L731.78 140.81 L732.71 140.42 L733.64 140.04 L734.57 139.65 L735.50 139.27 L736.43 138.88 L737.36 138.50 L738.30 138.11 L739.23 137.72 L740.17 137.34 L741.11 136.95 L742.05 136.57 L742.99 136.19 L743.93 135.80 L744.87 135.42 L745.81 135.04 L746.75 134.66 L747.70 134.28 L748.65 133.90 L749.59 133.53 L750.54 133.15 L751.49 132.78 L752.44 132.41 L753.39 132.04 L754.34 131.68 L755.29 131.31 L756.25 130.95 L757.20 130.59 L758.16 130.23 L759.12 129.88 L760.07 129.52 L761.03 129.17 L761.99 128.83 L762.95 128.48 L763.92 128.14 L764.88 127.81 L765.84 127.47 L766.81 127.14 L767.77 126.81 L768.74 126.49 L769.71 126.17 L770.68 125.85 L771.65 125.54 L772.62 125.23 L773.59 124.93 L774.56 124.63 L775.54 124.33 L776.51 124.04 L777.49 123.75 L778.46 123.46 L779.44 123.18 L780.42 122.91 L781.40 122.64" stroke="#000000" stroke-dasharray="1.4 3.9"/>
<path d="M455.30 30.17 L455.33 30.13 L455.38 30.07 L455.45 30.00 L455.53 29.93 L455.63 29.85 L455.73 29.77 L455.84 29.70 L455.96 29.64 L456.09 29.59 L456.23 29.55 L456.37 29.52 L456.52 29.52 L456.67 29.53 L456.83 29.56 L457.00 29.61 L457.17 29.68 L457.35 29.77 L457.53 29.88 L457.72 30.01 L457.92 30.17 L458.12 30.34 L458.32 30.53 L458.53 30.74 L458.74 30.97 L458.96 31.21 L459.18 31.47 L459.40 31.74 L459.63 32.02 L459.87 32.31 L460.11 32.61 L460.35 32.92 L460.60 33.24 L460.85 33.57 L461.10 33.91 L461.36 34.26 L461.62 34.62 L461.88 34.98 L462.15 35.36 L462.43 35.75 L462.70 36.15 L462.98 36.55 L463.26 36.97 L463.55 37.40 L463.84 37.83 L464.13 38.28 L464.43 38.74 L464.73 39.20 L465.03 39.68 L465.33 40.16 L465.64 40.66 L465.96 41.16 L466.27 41.68 L466.59 42.20 L466.91 42.73 L467.23 43.27 L467.56 43.82 L467.89 44.38 L468.22 44.95 L468.56 45.52 L468.90 46.10 L469.24 46.69 L469.58 47.29 L469.93 47.89 L470.28 48.50 L470.63 49.12 L470.99 49.74 L471.34 50.37 L471.70 51.01 L472.07 51.65 L472.43 52.30 L472.80 52.96 L473.17 53.62 L473.55 54.29 L473.92 54.96 L474.30 55.64 L474.68 56.33 L475.07 57.02 L475.45 57.72 L475.84 58.42 L476.23 59.13 L476.63 59.85 L477.02 60.57 L477.42 61.30 L477.82 62.03 L478.23 62.76 L478.63 63.51 L479.04 64.25 L479.45 65.00 L479.86 65.76 L480.28 66.52 L480.70 67.28 L481.12 68.05 L481.54 68.83 L481.96 69.60 L482.39 70.38 L482.82 71.17 L483.25 71.95 L483.68 72.74 L484.12 73.54 L484.55 74.33 L484.99 75.13 L485.44 75.93 L485.88 76.73 L486.33 77.54 L486.78 78.35 L487.23 79.16 L487.68 79.97 L488.13 80.78 L488.59 81.60 L489.05 82.41 L489.51 83.23 L489.98 84.05 L490.44 84.86 L490.91 85.68 L491.38 86.50 L491.85 87.32 L492.32 88.13 L492.80 88.95 L493.28 89.77 L493.76 90.58 L494.24 91.40 L494.72 92.21 L495.21 93.02 L495.70 93.83 L496.19 94.64 L496.68 95.45 L497.17 96.26 L497.67 97.06 L498.16 97.87 L498.66 98.67 L499.16 99.46 L499.67 100.26 L500.17 101.05 L500.68 101.84 L501.19 102.63 L501.70 103.42 L502.21 104.20 L502.73 104.98 L503.24 105.76 L503.76 106.53 L504.28 107.30 L504.80 108.07 L505.33 108.83 L505.85 109.59 L506.38 110.34 L506.91 111.10 L507.44 111.84 L507.97 112.59 L508.51 113.33 L509.04 114.07 L509.58 114.80 L510.12 115.53 L510.67 116.26 L511.21 116.98 L511.75 117.70 L512.30 118.42 L512.85 119.13 L513.40 119.84 L513.95 120.54 L514.51 121.24 L515.06 121.94 L515.62 122.64 L516.18 123.33 L516.74 124.01 L517.30 124.70 L517.87 125.38 L518.44 126.05 L519.00 126.73 L519.57 127.40 L520.14 128.06 L520.72 128.72 L521.29 129.38 L521.87 130.04 L522.45 130.69 L523.03 131.34 L523.61 131.99 L524.19 132.63 L524.78 133.27 L525.36 133.91 L525.95 134.54 L526.54 135.17 L527.13 135.79 L527.72 136.42 L528.32 137.04 L528.91 137.66 L529.51 138.27 L530.11 138.88 L530.71 139.49 L531.31 140.10 L531.92 140.70 L532.52 141.30 L533.13 141.90 L533.74 142.49 L534.35 143.08 L534.96 143.67 L535.58 144.26 L536.19 144.84 L536.81 145.42 L537.43 145.99 L538.05 146.57 L538.67 147.13 L539.29 147.70 L539.91 148.26 L540.54 148.82 L541.17 149.37 L541.80 149.92 L542.43 150.47 L543.06 151.01 L543.69 151.55 L544.33 152.08 L544.97 152.61 L545.60 153.13 L546.24 153.65 L546.88 154.16 L547.53 154.67 L548.17 155.18 L548.82 155.68 L549.46 156.17 L550.11 156.66 L550.76 157.15 L551.41 157.63 L552.07 158.10 L552.72 158.57 L553.38 159.03 L554.04 159.49 L554.69 159.94 L555.35 160.39 L556.02 160.83 L556.68 161.27 L557.35 161.70 L558.01 162.12 L558.68 162.54 L559.35 162.95 L560.02 163.36 L560.69 163.76 L561.36 164.15 L562.04 164.54 L562.72 164.92 L563.39 165.29 L564.07 165.66 L564.75 166.02 L565.43 166.38 L566.12 166.73 L566.80 167.07 L567.49 167.41 L568.18 167.73 L568.87 168.06 L569.56 168.37 L570.25 168.68 L570.94 168.98 L571.64 169.28 L572.33 169.57 L573.03 169.85 L573.73 170.12 L574.43 170.39 L575.13 170.65 L575.83 170.91 L576.54 171.15 L577.24 171.40 L577.95 171.63 L578.66 171.86 L579.37 172.08 L580.08 172.30 L580.79 172.51 L581.50 172.72 L582.22 172.91 L582.93 173.11 L583.65 173.29 L584.37 173.48 L585.09 173.65 L585.81 173.82 L586.54 173.99 L587.26 174.14 L587.99 174.30 L588.71 174.44 L589.44 174.59 L590.17 174.72 L590.90 174.86 L591.63 174.98 L592.37 175.10 L593.10 175.22 L593.84 175.33 L594.58 175.44 L595.32 175.54 L596.06 175.63 L596.80 175.72 L597.54 175.81 L598.28 175.89 L599.03 175.97 L599.78 176.04 L600.52 176.11 L601.27 176.17 L602.02 176.23 L602.78 176.28 L603.53 176.33 L604.28 176.37 L605.04 176.41 L605.80 176.44 L606.55 176.47 L607.31 176.50 L608.07 176.52 L608.84 176.54 L609.60 176.55 L610.36 176.56 L611.13 176.56 L611.90 176.56 L612.66 176.55 L613.43 176.54 L614.21 176.53 L614.98 176.51 L615.75 176.49 L616.52 176.46 L617.30 176.43 L618.08 176.40 L618.86 176.36 L619.64 176.31 L620.42 176.27 L621.20 176.22 L621.98 176.16 L622.77 176.10 L623.55 176.04 L624.34 175.97 L625.13 175.90 L625.92 175.82 L626.71 175.74 L627.50 175.66 L628.29 175.57 L629.08 175.48 L629.88 175.39 L630.68 175.29 L631.47 175.18 L632.27 175.08 L633.07 174.97 L633.87 174.85 L634.68 174.73 L635.48 174.61 L636.29 174.48 L637.09 174.34 L637.90 174.21 L638.71 174.07 L639.52 173.92 L640.33 173.77 L641.14 173.62 L641.95 173.46 L642.77 173.30 L643.58 173.14 L644.40 172.97 L645.22 172.79 L646.04 172.62 L646.86 172.43 L647.68 172.25 L648.50 172.06 L649.33 171.86 L650.15 171.66 L650.98 171.46 L651.81 171.25 L652.63 171.04 L653.46 170.83 L654.29 170.61 L655.13 170.38 L655.96 170.15 L656.79 169.92 L657.63 169.68 L658.47 169.44 L659.30 169.20 L660.14 168.95 L660.98 168.70 L661.82 168.44 L662.67 168.18 L663.51 167.92 L664.36 167.65 L665.20 167.38 L666.05 167.11 L666.90 166.83 L667.75 166.55 L668.60 166.27 L669.45 165.98 L670.30 165.70 L671.15 165.40 L672.01 165.11 L672.86 164.81 L673.72 164.51 L674.58 164.21 L675.44 163.90 L676.30 163.59 L677.16 163.28 L678.02 162.97 L678.89 162.65 L679.75 162.33 L680.62 162.01 L681.49 161.69 L682.35 161.36 L683.22 161.03 L684.09 160.70 L684.97 160.37 L685.84 160.04 L686.71 159.70 L687.59 159.37 L688.46 159.03 L689.34 158.68 L690.22 158.34 L691.10 158.00 L691.98 157.65 L692.86 157.30 L693.74 156.95 L694.63 156.60 L695.51 156.25 L696.40 155.89 L697.28 155.54 L698.17 155.18 L699.06 154.82 L699.95 154.46 L700.84 154.10 L701.73 153.74 L702.63 153.37 L703.52 153.01 L704.42 152.64 L705.31 152.27 L706.21 151.91 L707.11 151.54 L708.01 151.17 L708.91 150.79 L709.81 150.42 L710.72 150.05 L711.62 149.68 L712.53 149.30 L713.43 148.93 L714.34 148.55 L715.25 148.17 L716.16 147.79 L717.07 147.42 L717.98 147.04 L718.89 146.66 L719.81 146.28 L720.72 145.90 L721.64 145.51 L722.55 145.13 L723.47 144.75 L724.39 144.37 L725.31 143.98 L726.23 143.60 L727.15 143.22 L728.08 142.83 L729.00 142.45 L729.92 142.06 L730.85 141.68 L731.78 141.29 L732.71 140.91 L733.64 140.52 L734.57 140.13 L735.50 139.75 L736.43 139.36 L737.36 138.98 L738.30 138.59 L739.23 138.20 L740.17 137.82 L741.11 137.43 L742.05 137.05 L742.99 136.66 L743.93 136.28 L744.87 135.90 L745.81 135.52 L746.75 135.14 L747.70 134.76 L748.65 134.38 L749.59 134.01 L750.54 133.63 L751.49 133.26 L752.44 132.89 L753.39 132.52 L754.34 132.16 L755.29 131.79 L756.25 131.43 L757.20 131.07 L758.16 130.72 L759.12 130.37 L760.07 130.01 L761.03 129.67 L761.99 129.32 L762.95 128.98 L763.92 128.64 L764.88 128.31 L765.84 127.98 L766.81 127.65 L767.77 127.33 L768.74 127.01 L769.71 126.69 L770.68 126.38 L771.65 126.07 L772.62 125.77 L773.59 125.47 L774.56 125.17 L775.54 124.88 L776.51 124.59 L777.49 124.31 L778.46 124.04 L779.44 123.76 L780.42 123.50 L781.40 123.23" stroke="#ff8000" stroke-dasharray="0.6 2.28"/>
<path d="M455.30 34.50 L455.33 34.53 L455.38 34.59 L455.45 34.67 L455.53 34.77 L455.63 34.88 L455.73 35.01 L455.84 35.16 L455.96 35.32 L456.09 35.51 L456.23 35.71 L456.37 35.93 L456.52 36.17 L456.67 36.43 L456.83 36.70 L457.00 37.00 L457.17 37.31 L457.35 37.65 L457.53 38.00 L457.72 38.36 L457.92 38.75 L458.12 39.15 L458.32 39.57 L458.53 40.00 L458.74 40.45 L458.96 40.90 L459.18 41.37 L459.40 41.86 L459.63 42.35 L459.87 42.85 L460.11 43.35 L460.35 43.87 L460.60 44.39 L460.85 44.93 L461.10 45.47 L461.36 46.02 L461.62 46.58 L461.88 47.15 L462.15 47.73 L462.43 48.32 L462.70 48.91 L462.98 49.52 L463.26 50.14 L463.55 50.77 L463.84 51.41 L464.13 52.06 L464.43 52.72 L464.73 53.39 L465.03 54.07 L465.33 54.77 L465.64 55.47 L465.96 56.19 L466.27 56.91 L466.59 57.65 L466.91 58.39 L467.23 59.15 L467.56 59.91 L467.89 60.68 L468.22 61.45 L468.56 62.24 L468.90 63.03 L469.24 63.83 L469.58 64.63 L469.93 65.44 L470.28 66.26 L470.63 67.08 L470.99 67.91 L471.34 68.74 L471.70 69.57 L472.07 70.41 L472.43 71.25 L472.80 72.09 L473.17 72.94 L473.55 73.79 L473.92 74.65 L474.30 75.50 L474.68 76.36 L475.07 77.22 L475.45 78.08 L475.84 78.95 L476.23 79.81 L476.63 80.68 L477.02 81.55 L477.42 82.42 L477.82 83.29 L478.23 84.16 L478.63 85.03 L479.04 85.90 L479.45 86.77 L479.86 87.64 L480.28 88.51 L480.70 89.38 L481.12 90.26 L481.54 91.13 L481.96 92.00 L482.39 92.87 L482.82 93.75 L483.25 94.62 L483.68 95.49 L484.12 96.37 L484.55 97.24 L484.99 98.11 L485.44 98.99 L485.88 99.86 L486.33 100.73 L486.78 101.61 L487.23 102.48 L487.68 103.35 L488.13 104.22 L488.59 105.10 L489.05 105.97 L489.51 106.84 L489.98 107.71 L490.44 108.58 L490.91 109.45 L491.38 110.31 L491.85 111.18 L492.32 112.05 L492.80 112.91 L493.28 113.78 L493.76 114.64 L494.24 115.51 L494.72 116.37 L495.21 117.23 L495.70 118.09 L496.19 118.95 L496.68 119.80 L497.17 120.66 L497.67 121.51 L498.16 122.36 L498.66 123.21 L499.16 124.06 L499.67 124.90 L500.17 125.75 L500.68 126.58 L501.19 127.42 L501.70 128.25 L502.21 129.08 L502.73 129.91 L503.24 130.73 L503.76 131.55 L504.28 132.37 L504.80 133.18 L505.33 133.98 L505.85 134.79 L506.38 135.59 L506.91 136.38 L507.44 137.17 L507.97 137.96 L508.51 138.74 L509.04 139.51 L509.58 140.28 L510.12 141.04 L510.67 141.80 L511.21 142.55 L511.75 143.30 L512.30 144.04 L512.85 144.77 L513.40 145.50 L513.95 146.22 L514.51 146.94 L515.06 147.64 L515.62 148.34 L516.18 149.04 L516.74 149.72 L517.30 150.40 L517.87 151.07 L518.44 151.73 L519.00 152.39 L519.57 153.03 L520.14 153.67 L520.72 154.31 L521.29 154.93 L521.87 155.54 L522.45 156.15 L523.03 156.75 L523.61 157.34 L524.19 157.92 L524.78 158.50 L525.36 159.06 L525.95 159.62 L526.54 160.16 L527.13 160.70 L527.72 161.23 L528.32 161.76 L528.91 162.27 L529.51 162.77 L530.11 163.27 L530.71 163.75 L531.31 164.23 L531.92 164.70 L532.52 165.15 L533.13 165.60 L533.74 166.04 L534.35 166.47 L534.96 166.90 L535.58 167.31 L536.19 167.71 L536.81 168.11 L537.43 168.49 L538.05 168.87 L538.67 169.24 L539.29 169.60 L539.91 169.94 L540.54 170.29 L541.17 170.62 L541.80 170.94 L542.43 171.26 L543.06 171.56 L543.69 171.86 L544.33 172.15 L544.97 172.43 L545.60 172.70 L546.24 172.96 L546.88 173.21 L547.53 173.46 L548.17 173.70 L548.82 173.93 L549.46 174.15 L550.11 174.36 L550.76 174.56 L551.41 174.76 L552.07 174.95 L552.72 175.13 L553.38 175.30 L554.04 175.46 L554.69 175.62 L555.35 175.76 L556.02 175.90 L556.68 176.03 L557.35 176.16 L558.01 176.27 L558.68 176.38 L559.35 176.48 L560.02 176.57 L560.69 176.65 L561.36 176.73 L562.04 176.80 L562.72 176.86 L563.39 176.91 L564.07 176.96 L564.75 177.00 L565.43 177.03 L566.12 177.05 L566.80 177.07 L567.49 177.08 L568.18 177.08 L568.87 177.07 L569.56 177.06 L570.25 177.04 L570.94 177.01 L571.64 176.97 L572.33 176.93 L573.03 176.88 L573.73 176.83 L574.43 176.76 L575.13 176.69 L575.83 176.62 L576.54 176.53 L577.24 176.44 L577.95 176.34 L578.66 176.24 L579.37 176.13 L580.08 176.01 L580.79 175.89 L581.50 175.76 L582.22 175.63 L582.93 175.48 L583.65 175.34 L584.37 175.18 L585.09 175.02 L585.81 174.85 L586.54 174.68 L587.26 174.50 L587.99 174.32 L588.71 174.13 L589.44 173.93 L590.17 173.73 L590.90 173.52 L591.63 173.31 L592.37 173.09 L593.10 172.87 L593.84 172.64 L594.58 172.40 L595.32 172.16 L596.06 171.92 L596.80 171.67 L597.54 171.41 L598.28 171.15 L599.03 170.88 L599.78 170.61 L600.52 170.33 L601.27 170.05 L602.02 169.76 L602.78 169.47 L603.53 169.18 L604.28 168.88 L605.04 168.57 L605.80 168.26 L606.55 167.95 L607.31 167.63 L608.07 167.30 L608.84 166.98 L609.60 166.64 L610.36 166.31 L611.13 165.97 L611.90 165.62 L612.66 165.27 L613.43 164.92 L614.21 164.56 L614.98 164.20 L615.75 163.84 L616.52 163.47 L617.30 163.09 L618.08 162.72 L618.86 162.34 L619.64 161.95 L620.42 161.56 L621.20 161.17 L621.98 160.78 L622.77 160.38 L623.55 159.97 L624.34 159.57 L625.13 159.16 L625.92 158.75 L626.71 158.33 L627.50 157.91 L628.29 157.49 L629.08 157.07 L629.88 156.64 L630.68 156.21 L631.47 155.78 L632.27 155.35 L633.07 154.91 L633.87 154.47 L634.68 154.03 L635.48 153.59 L636.29 153.15 L637.09 152.70 L637.90 152.26 L638.71 151.81 L639.52 151.36 L640.33 150.91 L641.14 150.46 L641.95 150.00 L642.77 149.55 L643.58 149.09 L644.40 148.64 L645.22 148.18 L646.04 147.73 L646.86 147.27 L647.68 146.81 L648.50 146.35 L649.33 145.90 L650.15 145.44 L650.98 144.98 L651.81 144.52 L652.63 144.06 L653.46 143.60 L654.29 143.14 L655.13 142.69 L655.96 142.23 L656.79 141.77 L657.63 141.31 L658.47 140.86 L659.30 140.40 L660.14 139.95 L660.98 139.49 L661.82 139.04 L662.67 138.59 L663.51 138.14 L664.36 137.69 L665.20 137.24 L666.05 136.79 L666.90 136.34 L667.75 135.90 L668.60 135.45 L669.45 135.01 L670.30 134.57 L671.15 134.13 L672.01 133.69 L672.86 133.25 L673.72 132.82 L674.58 132.38 L675.44 131.95 L676.30 131.52 L677.16 131.10 L678.02 130.67 L678.89 130.25 L679.75 129.83 L680.62 129.41 L681.49 128.99 L682.35 128.58 L683.22 128.16 L684.09 127.75 L684.97 127.35 L685.84 126.94 L686.71 126.54 L687.59 126.14 L688.46 125.74 L689.34 125.34 L690.22 124.95 L691.10 124.56 L691.98 124.17 L692.86 123.79 L693.74 123.41 L694.63 123.03 L695.51 122.65 L696.40 122.28 L697.28 121.91 L698.17 121.54 L699.06 121.17 L699.95 120.81 L700.84 120.45 L701.73 120.09 L702.63 119.74 L703.52 119.38 L704.42 119.03 L705.31 118.68 L706.21 118.33 L707.11 117.99 L708.01 117.65 L708.91 117.30 L709.81 116.97 L710.72 116.63 L711.62 116.29 L712.53 115.96 L713.43 115.63 L714.34 115.30 L715.25 114.97 L716.16 114.64 L717.07 114.32 L717.98 114.00 L718.89 113.68 L719.81 113.36 L720.72 113.04 L721.64 112.72 L722.55 112.41 L723.47 112.09 L724.39 111.78 L725.31 111.47 L726.23 111.16 L727.15 110.85 L728.08 110.55 L729.00 110.24 L729.92 109.94 L730.85 109.63 L731.78 109.33 L732.71 109.03 L733.64 108.73 L734.57 108.43 L735.50 108.13 L736.43 107.83 L737.36 107.54 L738.30 107.24 L739.23 106.95 L740.17 106.66 L741.11 106.36 L742.05 106.07 L742.99 105.78 L743.93 105.50 L744.87 105.21 L745.81 104.92 L746.75 104.64 L747.70 104.35 L748.65 104.07 L749.59 103.79 L750.54 103.51 L751.49 103.23 L752.44 102.95 L753.39 102.68 L754.34 102.41 L755.29 102.13 L756.25 101.86 L757.20 101.59 L758.16 101.32 L759.12 101.06 L760.07 100.79 L761.03 100.53 L761.99 100.27 L762.95 100.01 L763.92 99.75 L764.88 99.49 L765.84 99.24 L766.81 98.98 L767.77 98.73 L768.74 98.48 L769.71 98.23 L770.68 97.99 L771.65 97.74 L772.62 97.50 L773.59 97.26 L774.56 97.02 L775.54 96.79 L776.51 96.55 L777.49 96.32 L778.46 96.09 L779.44 95.86 L780.42 95.63 L781.40 95.41" stroke="#664422" stroke-dasharray="0.01 3.2 2.6 3.2"/>
</g>
<line x1="455.30" y1="19.60" x2="781.40" y2="19.60" stroke="#b4b4b4" stroke-width="0.9"/>
<line x1="455.30" y1="19.60" x2="455.30" y2="221.20" stroke="#b4b4b4" stroke-width="0.9"/>
<line x1="455.30" y1="221.20" x2="781.40" y2="221.20" stroke="#808080" stroke-width="0.9"/>
<line x1="781.40" y1="19.60" x2="781.40" y2="221.20" stroke="#808080" stroke-width="0.9"/>
<line x1="455.30" y1="221.20" x2="455.30" y2="217.60" stroke="#808080" stroke-width="0.9"/>
<text x="455.30" y="233.00" font-size="12.3" text-anchor="middle">0</text>
<line x1="468.34" y1="221.20" x2="468.34" y2="219.20" stroke="#808080" stroke-width="0.9"/>
<line x1="481.39" y1="221.20" x2="481.39" y2="219.20" stroke="#808080" stroke-width="0.9"/>
<line x1="494.43" y1="221.20" x2="494.43" y2="219.20" stroke="#808080" stroke-width="0.9"/>
<line x1="507.48" y1="221.20" x2="507.48" y2="219.20" stroke="#808080" stroke-width="0.9"/>
<line x1="520.52" y1="221.20" x2="520.52" y2="217.60" stroke="#808080" stroke-width="0.9"/>
<text x="520.52" y="233.00" font-size="12.3" text-anchor="middle">1</text>
<line x1="533.56" y1="221.20" x2="533.56" y2="219.20" stroke="#808080" stroke-width="0.9"/>
<line x1="546.61" y1="221.20" x2="546.61" y2="219.20" stroke="#808080" stroke-width="0.9"/>
<line x1="559.65" y1="221.20" x2="559.65" y2="219.20" stroke="#808080" stroke-width="0.9"/>
<line x1="572.70" y1="221.20" x2="572.70" y2="219.20" stroke="#808080" stroke-width="0.9"/>
<line x1="585.74" y1="221.20" x2="585.74" y2="217.60" stroke="#808080" stroke-width="0.9"/>
<text x="585.74" y="233.00" font-size="12.3" text-anchor="middle">2</text>
<line x1="598.78" y1="221.20" x2="598.78" y2="219.20" stroke="#808080" stroke-width="0.9"/>
<line x1="611.83" y1="221.20" x2="611.83" y2="219.20" stroke="#808080" stroke-width="0.9"/>
<line x1="624.87" y1="221.20" x2="624.87" y2="219.20" stroke="#808080" stroke-width="0.9"/>
<line x1="637.92" y1="221.20" x2="637.92" y2="219.20" stroke="#808080" stroke-width="0.9"/>
<line x1="650.96" y1="221.20" x2="650.96" y2="217.60" stroke="#808080" stroke-width="0.9"/>
<text x="650.96" y="233.00" font-size="12.3" text-anchor="middle">3</text>
<line x1="664.00" y1="221.20" x2="664.00" y2="219.20" stroke="#808080" stroke-width="0.9"/>
<line x1="677.05" y1="221.20" x2="677.05" y2="219.20" stroke="#808080" stroke-width="0.9"/>
<line x1="690.09" y1="221.20" x2="690.09" y2="219.20" stroke="#808080" stroke-width="0.9"/>
<line x1="703.14" y1="221.20" x2="703.14" y2="219.20" stroke="#808080" stroke-width="0.9"/>
<line x1="716.18" y1="221.20" x2="716.18" y2="217.60" stroke="#808080" stroke-width="0.9"/>
<text x="716.18" y="233.00" font-size="12.3" text-anchor="middle">4</text>
<line x1="729.22" y1="221.20" x2="729.22" y2="219.20" stroke="#808080" stroke-width="0.9"/>
<line x1="742.27" y1="221.20" x2="742.27" y2="219.20" stroke="#808080" stroke-width="0.9"/>
<line x1="755.31" y1="221.20" x2="755.31" y2="219.20" stroke="#808080" stroke-width="0.9"/>
<line x1="768.36" y1="221.20" x2="768.36" y2="219.20" stroke="#808080" stroke-width="0.9"/>
<line x1="781.40" y1="221.20" x2="781.40" y2="217.60" stroke="#808080" stroke-width="0.9"/>
<text x="781.40" y="233.00" font-size="12.3" text-anchor="middle">5</text>
<line x1="781.40" y1="19.60" x2="777.80" y2="19.60" stroke="#808080" stroke-width="0.9"/>
<text x="783.50" y="24.20" font-size="13.4">−</text>
<text x="792.10" y="23.80" font-size="12.3">1.35</text>
<line x1="781.40" y1="24.64" x2="779.40" y2="24.64" stroke="#808080" stroke-width="0.9"/>
<line x1="781.40" y1="29.68" x2="779.40" y2="29.68" stroke="#808080" stroke-width="0.9"/>
<line x1="781.40" y1="34.72" x2="779.40" y2="34.72" stroke="#808080" stroke-width="0.9"/>
<line x1="781.40" y1="39.76" x2="779.40" y2="39.76" stroke="#808080" stroke-width="0.9"/>
<line x1="781.40" y1="44.80" x2="777.80" y2="44.80" stroke="#808080" stroke-width="0.9"/>
<text x="783.50" y="49.40" font-size="13.4">−</text>
<text x="792.10" y="49.00" font-size="12.3">1.40</text>
<line x1="781.40" y1="49.84" x2="779.40" y2="49.84" stroke="#808080" stroke-width="0.9"/>
<line x1="781.40" y1="54.88" x2="779.40" y2="54.88" stroke="#808080" stroke-width="0.9"/>
<line x1="781.40" y1="59.92" x2="779.40" y2="59.92" stroke="#808080" stroke-width="0.9"/>
<line x1="781.40" y1="64.96" x2="779.40" y2="64.96" stroke="#808080" stroke-width="0.9"/>
<line x1="781.40" y1="70.00" x2="777.80" y2="70.00" stroke="#808080" stroke-width="0.9"/>
<text x="783.50" y="74.60" font-size="13.4">−</text>
<text x="792.10" y="74.20" font-size="12.3">1.45</text>
<line x1="781.40" y1="75.04" x2="779.40" y2="75.04" stroke="#808080" stroke-width="0.9"/>
<line x1="781.40" y1="80.08" x2="779.40" y2="80.08" stroke="#808080" stroke-width="0.9"/>
<line x1="781.40" y1="85.12" x2="779.40" y2="85.12" stroke="#808080" stroke-width="0.9"/>
<line x1="781.40" y1="90.16" x2="779.40" y2="90.16" stroke="#808080" stroke-width="0.9"/>
<line x1="781.40" y1="95.20" x2="777.80" y2="95.20" stroke="#808080" stroke-width="0.9"/>
<text x="783.50" y="99.80" font-size="13.4">−</text>
<text x="792.10" y="99.40" font-size="12.3">1.50</text>
<line x1="781.40" y1="100.24" x2="779.40" y2="100.24" stroke="#808080" stroke-width="0.9"/>
<line x1="781.40" y1="105.28" x2="779.40" y2="105.28" stroke="#808080" stroke-width="0.9"/>
<line x1="781.40" y1="110.32" x2="779.40" y2="110.32" stroke="#808080" stroke-width="0.9"/>
<line x1="781.40" y1="115.36" x2="779.40" y2="115.36" stroke="#808080" stroke-width="0.9"/>
<line x1="781.40" y1="120.40" x2="777.80" y2="120.40" stroke="#808080" stroke-width="0.9"/>
<text x="783.50" y="125.00" font-size="13.4">−</text>
<text x="792.10" y="124.60" font-size="12.3">1.55</text>
<line x1="781.40" y1="125.44" x2="779.40" y2="125.44" stroke="#808080" stroke-width="0.9"/>
<line x1="781.40" y1="130.48" x2="779.40" y2="130.48" stroke="#808080" stroke-width="0.9"/>
<line x1="781.40" y1="135.52" x2="779.40" y2="135.52" stroke="#808080" stroke-width="0.9"/>
<line x1="781.40" y1="140.56" x2="779.40" y2="140.56" stroke="#808080" stroke-width="0.9"/>
<line x1="781.40" y1="145.60" x2="777.80" y2="145.60" stroke="#808080" stroke-width="0.9"/>
<text x="783.50" y="150.20" font-size="13.4">−</text>
<text x="792.10" y="149.80" font-size="12.3">1.60</text>
<line x1="781.40" y1="150.64" x2="779.40" y2="150.64" stroke="#808080" stroke-width="0.9"/>
<line x1="781.40" y1="155.68" x2="779.40" y2="155.68" stroke="#808080" stroke-width="0.9"/>
<line x1="781.40" y1="160.72" x2="779.40" y2="160.72" stroke="#808080" stroke-width="0.9"/>
<line x1="781.40" y1="165.76" x2="779.40" y2="165.76" stroke="#808080" stroke-width="0.9"/>
<line x1="781.40" y1="170.80" x2="777.80" y2="170.80" stroke="#808080" stroke-width="0.9"/>
<text x="783.50" y="175.40" font-size="13.4">−</text>
<text x="792.10" y="175.00" font-size="12.3">1.65</text>
<line x1="781.40" y1="175.84" x2="779.40" y2="175.84" stroke="#808080" stroke-width="0.9"/>
<line x1="781.40" y1="180.88" x2="779.40" y2="180.88" stroke="#808080" stroke-width="0.9"/>
<line x1="781.40" y1="185.92" x2="779.40" y2="185.92" stroke="#808080" stroke-width="0.9"/>
<line x1="781.40" y1="190.96" x2="779.40" y2="190.96" stroke="#808080" stroke-width="0.9"/>
<line x1="781.40" y1="196.00" x2="777.80" y2="196.00" stroke="#808080" stroke-width="0.9"/>
<text x="783.50" y="200.60" font-size="13.4">−</text>
<text x="792.10" y="200.20" font-size="12.3">1.70</text>
<line x1="781.40" y1="201.04" x2="779.40" y2="201.04" stroke="#808080" stroke-width="0.9"/>
<line x1="781.40" y1="206.08" x2="779.40" y2="206.08" stroke="#808080" stroke-width="0.9"/>
<line x1="781.40" y1="211.12" x2="779.40" y2="211.12" stroke="#808080" stroke-width="0.9"/>
<line x1="781.40" y1="216.16" x2="779.40" y2="216.16" stroke="#808080" stroke-width="0.9"/>
<line x1="781.40" y1="221.20" x2="777.80" y2="221.20" stroke="#808080" stroke-width="0.9"/>
<text x="783.50" y="225.80" font-size="13.4">−</text>
<text x="792.10" y="225.40" font-size="12.3">1.75</text>
<text x="818.6" y="123.6" font-size="12" font-style="italic">η</text>
<text x="824.4" y="125.4" font-size="7.4" font-style="italic">c</text>
<text x="605.90" y="252.50" font-size="11.2" font-style="italic">p</text>
<text x="612.90" y="249.00" font-size="7.2">2</text>
<text x="617.00" y="252.50" font-size="11.2">/</text>
<text x="621.00" y="252.50" font-size="11.2" font-style="italic">k</text>
<text x="627.00" y="249.00" font-size="7.2">2</text>
</svg></body></html>
